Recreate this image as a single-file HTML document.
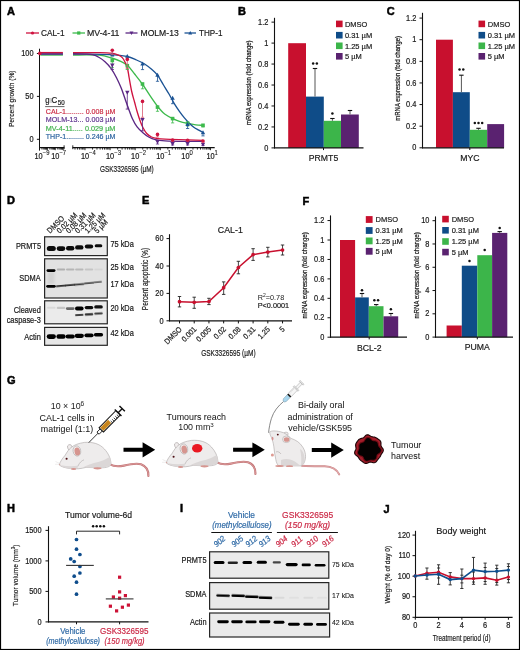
<!DOCTYPE html>
<html><head><meta charset="utf-8"><title>Figure</title>
<style>
html,body{margin:0;padding:0;background:#fff;}
body{width:520px;height:650px;overflow:hidden;}
svg{display:block;will-change:transform;}
svg{font-family:"Liberation Sans", sans-serif;}
</style></head><body>
<svg width="520" height="650" viewBox="0 0 520 650">
<rect x="0" y="0" width="520" height="650" fill="#fff"/>
<g fill="#1a1a1a">
<text x="7.00" y="14.90" font-size="11" fill="#000" stroke="#000" stroke-width="0.5" font-weight="bold">A</text>
<line x1="26.00" y1="33.00" x2="39.00" y2="33.00" stroke="#cf1440" stroke-width="1.3"/>
<circle cx="32.50" cy="33.00" r="1.62" fill="#cf1440"/>
<text x="0" y="0" transform="translate(41.00 36.10) scale(1 1.04)" font-size="8.6" stroke="#1a1a1a" stroke-width="0.18" textLength="23.5" lengthAdjust="spacingAndGlyphs">CAL-1</text>
<line x1="72.50" y1="33.00" x2="85.00" y2="33.00" stroke="#3dba4c" stroke-width="1.3"/>
<rect x="77.13" y="31.38" width="3.24" height="3.24" fill="#3dba4c"/>
<text x="0" y="0" transform="translate(87.00 36.10) scale(1 1.04)" font-size="8.6" stroke="#1a1a1a" stroke-width="0.18" textLength="32.5" lengthAdjust="spacingAndGlyphs">MV-4-11</text>
<line x1="125.50" y1="33.00" x2="137.50" y2="33.00" stroke="#5b2784" stroke-width="1.3"/>
<path d="M129.52,31.42 L133.48,31.42 L131.50,34.98Z" fill="#5b2784"/>
<text x="0" y="0" transform="translate(140.50 36.10) scale(1 1.04)" font-size="8.6" stroke="#1a1a1a" stroke-width="0.18" textLength="38.2" lengthAdjust="spacingAndGlyphs">MOLM-13</text>
<line x1="184.50" y1="33.00" x2="196.00" y2="33.00" stroke="#1b5394" stroke-width="1.3"/>
<path d="M188.27,34.58 L192.23,34.58 L190.25,31.02Z" fill="#1b5394"/>
<text x="0" y="0" transform="translate(199.00 36.10) scale(1 1.04)" font-size="8.6" stroke="#1a1a1a" stroke-width="0.18" textLength="23.5" lengthAdjust="spacingAndGlyphs">THP-1</text>
<line x1="39.50" y1="48.70" x2="39.50" y2="150.60" stroke="#111" stroke-width="1.05"/>
<line x1="36.90" y1="53.50" x2="39.50" y2="53.50" stroke="#111" stroke-width="1"/>
<text x="0" y="0" transform="translate(33.60 56.10) scale(1 1.15)" font-size="7.4" text-anchor="end" stroke="#1a1a1a" stroke-width="0.18">100</text>
<line x1="36.90" y1="96.40" x2="39.50" y2="96.40" stroke="#111" stroke-width="1"/>
<text x="0" y="0" transform="translate(33.60 99.00) scale(1 1.15)" font-size="7.4" text-anchor="end" stroke="#1a1a1a" stroke-width="0.18">50</text>
<line x1="36.90" y1="139.30" x2="39.50" y2="139.30" stroke="#111" stroke-width="1"/>
<text x="0" y="0" transform="translate(33.60 141.90) scale(1 1.15)" font-size="7.4" text-anchor="end" stroke="#1a1a1a" stroke-width="0.18">0</text>
<line x1="39.00" y1="147.60" x2="64.40" y2="147.60" stroke="#111" stroke-width="1.25"/>
<line x1="64.10" y1="145.30" x2="64.10" y2="149.20" stroke="#111" stroke-width="0.9"/>
<line x1="72.50" y1="147.60" x2="214.70" y2="147.60" stroke="#111" stroke-width="1.25"/>
<line x1="72.80" y1="145.30" x2="72.80" y2="149.20" stroke="#111" stroke-width="0.9"/>
<line x1="75.01" y1="147.60" x2="75.01" y2="149.60" stroke="#111" stroke-width="0.85"/>
<line x1="77.44" y1="147.60" x2="77.44" y2="149.60" stroke="#111" stroke-width="0.85"/>
<line x1="79.43" y1="147.60" x2="79.43" y2="149.60" stroke="#111" stroke-width="0.85"/>
<line x1="81.11" y1="147.60" x2="81.11" y2="149.60" stroke="#111" stroke-width="0.85"/>
<line x1="82.57" y1="147.60" x2="82.57" y2="149.60" stroke="#111" stroke-width="0.85"/>
<line x1="83.85" y1="147.60" x2="83.85" y2="149.60" stroke="#111" stroke-width="0.85"/>
<line x1="85.00" y1="147.60" x2="85.00" y2="150.20" stroke="#111" stroke-width="0.85"/>
<line x1="92.56" y1="147.60" x2="92.56" y2="149.60" stroke="#111" stroke-width="0.85"/>
<line x1="96.98" y1="147.60" x2="96.98" y2="149.60" stroke="#111" stroke-width="0.85"/>
<line x1="100.11" y1="147.60" x2="100.11" y2="149.60" stroke="#111" stroke-width="0.85"/>
<line x1="102.54" y1="147.60" x2="102.54" y2="149.60" stroke="#111" stroke-width="0.85"/>
<line x1="104.53" y1="147.60" x2="104.53" y2="149.60" stroke="#111" stroke-width="0.85"/>
<line x1="106.21" y1="147.60" x2="106.21" y2="149.60" stroke="#111" stroke-width="0.85"/>
<line x1="107.67" y1="147.60" x2="107.67" y2="149.60" stroke="#111" stroke-width="0.85"/>
<line x1="108.95" y1="147.60" x2="108.95" y2="149.60" stroke="#111" stroke-width="0.85"/>
<line x1="110.10" y1="147.60" x2="110.10" y2="150.20" stroke="#111" stroke-width="0.85"/>
<line x1="117.66" y1="147.60" x2="117.66" y2="149.60" stroke="#111" stroke-width="0.85"/>
<line x1="122.08" y1="147.60" x2="122.08" y2="149.60" stroke="#111" stroke-width="0.85"/>
<line x1="125.21" y1="147.60" x2="125.21" y2="149.60" stroke="#111" stroke-width="0.85"/>
<line x1="127.64" y1="147.60" x2="127.64" y2="149.60" stroke="#111" stroke-width="0.85"/>
<line x1="129.63" y1="147.60" x2="129.63" y2="149.60" stroke="#111" stroke-width="0.85"/>
<line x1="131.31" y1="147.60" x2="131.31" y2="149.60" stroke="#111" stroke-width="0.85"/>
<line x1="132.77" y1="147.60" x2="132.77" y2="149.60" stroke="#111" stroke-width="0.85"/>
<line x1="134.05" y1="147.60" x2="134.05" y2="149.60" stroke="#111" stroke-width="0.85"/>
<line x1="135.20" y1="147.60" x2="135.20" y2="150.20" stroke="#111" stroke-width="0.85"/>
<line x1="142.76" y1="147.60" x2="142.76" y2="149.60" stroke="#111" stroke-width="0.85"/>
<line x1="147.18" y1="147.60" x2="147.18" y2="149.60" stroke="#111" stroke-width="0.85"/>
<line x1="150.31" y1="147.60" x2="150.31" y2="149.60" stroke="#111" stroke-width="0.85"/>
<line x1="152.74" y1="147.60" x2="152.74" y2="149.60" stroke="#111" stroke-width="0.85"/>
<line x1="154.73" y1="147.60" x2="154.73" y2="149.60" stroke="#111" stroke-width="0.85"/>
<line x1="156.41" y1="147.60" x2="156.41" y2="149.60" stroke="#111" stroke-width="0.85"/>
<line x1="157.87" y1="147.60" x2="157.87" y2="149.60" stroke="#111" stroke-width="0.85"/>
<line x1="159.15" y1="147.60" x2="159.15" y2="149.60" stroke="#111" stroke-width="0.85"/>
<line x1="160.30" y1="147.60" x2="160.30" y2="150.20" stroke="#111" stroke-width="0.85"/>
<line x1="167.86" y1="147.60" x2="167.86" y2="149.60" stroke="#111" stroke-width="0.85"/>
<line x1="172.28" y1="147.60" x2="172.28" y2="149.60" stroke="#111" stroke-width="0.85"/>
<line x1="175.41" y1="147.60" x2="175.41" y2="149.60" stroke="#111" stroke-width="0.85"/>
<line x1="177.84" y1="147.60" x2="177.84" y2="149.60" stroke="#111" stroke-width="0.85"/>
<line x1="179.83" y1="147.60" x2="179.83" y2="149.60" stroke="#111" stroke-width="0.85"/>
<line x1="181.51" y1="147.60" x2="181.51" y2="149.60" stroke="#111" stroke-width="0.85"/>
<line x1="182.97" y1="147.60" x2="182.97" y2="149.60" stroke="#111" stroke-width="0.85"/>
<line x1="184.25" y1="147.60" x2="184.25" y2="149.60" stroke="#111" stroke-width="0.85"/>
<line x1="185.40" y1="147.60" x2="185.40" y2="150.20" stroke="#111" stroke-width="0.85"/>
<line x1="192.96" y1="147.60" x2="192.96" y2="149.60" stroke="#111" stroke-width="0.85"/>
<line x1="197.38" y1="147.60" x2="197.38" y2="149.60" stroke="#111" stroke-width="0.85"/>
<line x1="200.51" y1="147.60" x2="200.51" y2="149.60" stroke="#111" stroke-width="0.85"/>
<line x1="202.94" y1="147.60" x2="202.94" y2="149.60" stroke="#111" stroke-width="0.85"/>
<line x1="204.93" y1="147.60" x2="204.93" y2="149.60" stroke="#111" stroke-width="0.85"/>
<line x1="206.61" y1="147.60" x2="206.61" y2="149.60" stroke="#111" stroke-width="0.85"/>
<line x1="208.07" y1="147.60" x2="208.07" y2="149.60" stroke="#111" stroke-width="0.85"/>
<line x1="209.35" y1="147.60" x2="209.35" y2="149.60" stroke="#111" stroke-width="0.85"/>
<line x1="210.50" y1="147.60" x2="210.50" y2="150.20" stroke="#111" stroke-width="0.85"/>
<line x1="41.88" y1="147.60" x2="41.88" y2="149.50" stroke="#111" stroke-width="0.75"/>
<line x1="43.27" y1="147.60" x2="43.27" y2="149.50" stroke="#111" stroke-width="0.75"/>
<line x1="44.26" y1="147.60" x2="44.26" y2="149.50" stroke="#111" stroke-width="0.75"/>
<line x1="45.02" y1="147.60" x2="45.02" y2="149.50" stroke="#111" stroke-width="0.75"/>
<line x1="45.65" y1="147.60" x2="45.65" y2="149.50" stroke="#111" stroke-width="0.75"/>
<line x1="46.18" y1="147.60" x2="46.18" y2="149.50" stroke="#111" stroke-width="0.75"/>
<line x1="46.63" y1="147.60" x2="46.63" y2="149.50" stroke="#111" stroke-width="0.75"/>
<line x1="47.04" y1="147.60" x2="47.04" y2="149.50" stroke="#111" stroke-width="0.75"/>
<line x1="47.40" y1="147.60" x2="47.40" y2="150.20" stroke="#111" stroke-width="0.75"/>
<line x1="49.78" y1="147.60" x2="49.78" y2="149.50" stroke="#111" stroke-width="0.75"/>
<line x1="51.17" y1="147.60" x2="51.17" y2="149.50" stroke="#111" stroke-width="0.75"/>
<line x1="52.16" y1="147.60" x2="52.16" y2="149.50" stroke="#111" stroke-width="0.75"/>
<line x1="52.92" y1="147.60" x2="52.92" y2="149.50" stroke="#111" stroke-width="0.75"/>
<line x1="53.55" y1="147.60" x2="53.55" y2="149.50" stroke="#111" stroke-width="0.75"/>
<line x1="54.08" y1="147.60" x2="54.08" y2="149.50" stroke="#111" stroke-width="0.75"/>
<line x1="54.53" y1="147.60" x2="54.53" y2="149.50" stroke="#111" stroke-width="0.75"/>
<line x1="54.94" y1="147.60" x2="54.94" y2="149.50" stroke="#111" stroke-width="0.75"/>
<line x1="55.30" y1="147.60" x2="55.30" y2="150.20" stroke="#111" stroke-width="0.75"/>
<line x1="57.68" y1="147.60" x2="57.68" y2="149.50" stroke="#111" stroke-width="0.75"/>
<line x1="59.07" y1="147.60" x2="59.07" y2="149.50" stroke="#111" stroke-width="0.75"/>
<line x1="60.06" y1="147.60" x2="60.06" y2="149.50" stroke="#111" stroke-width="0.75"/>
<line x1="60.82" y1="147.60" x2="60.82" y2="149.50" stroke="#111" stroke-width="0.75"/>
<line x1="61.45" y1="147.60" x2="61.45" y2="149.50" stroke="#111" stroke-width="0.75"/>
<line x1="61.98" y1="147.60" x2="61.98" y2="149.50" stroke="#111" stroke-width="0.75"/>
<line x1="62.43" y1="147.60" x2="62.43" y2="149.50" stroke="#111" stroke-width="0.75"/>
<line x1="62.84" y1="147.60" x2="62.84" y2="149.50" stroke="#111" stroke-width="0.75"/>
<line x1="63.20" y1="147.60" x2="63.20" y2="150.20" stroke="#111" stroke-width="0.75"/>
<text x="0" y="0" transform="translate(38.60 158.80) scale(1 1.13)" font-size="7.4" text-anchor="middle" stroke="#1a1a1a" stroke-width="0.18">10</text>
<text x="0" y="0" transform="translate(42.70 155.20) scale(1 1.1)" font-size="5.9" stroke="#1a1a1a" stroke-width="0.1">−9</text>
<text x="0" y="0" transform="translate(55.30 158.80) scale(1 1.13)" font-size="7.4" text-anchor="middle" stroke="#1a1a1a" stroke-width="0.18">10</text>
<text x="0" y="0" transform="translate(59.40 155.20) scale(1 1.1)" font-size="5.9" stroke="#1a1a1a" stroke-width="0.1">−7</text>
<text x="0" y="0" transform="translate(85.00 158.80) scale(1 1.13)" font-size="7.4" text-anchor="middle" stroke="#1a1a1a" stroke-width="0.18">10</text>
<text x="0" y="0" transform="translate(89.10 155.20) scale(1 1.1)" font-size="5.9" stroke="#1a1a1a" stroke-width="0.1">−4</text>
<text x="0" y="0" transform="translate(110.10 158.80) scale(1 1.13)" font-size="7.4" text-anchor="middle" stroke="#1a1a1a" stroke-width="0.18">10</text>
<text x="0" y="0" transform="translate(114.20 155.20) scale(1 1.1)" font-size="5.9" stroke="#1a1a1a" stroke-width="0.1">−3</text>
<text x="0" y="0" transform="translate(135.20 158.80) scale(1 1.13)" font-size="7.4" text-anchor="middle" stroke="#1a1a1a" stroke-width="0.18">10</text>
<text x="0" y="0" transform="translate(139.30 155.20) scale(1 1.1)" font-size="5.9" stroke="#1a1a1a" stroke-width="0.1">−2</text>
<text x="0" y="0" transform="translate(160.30 158.80) scale(1 1.13)" font-size="7.4" text-anchor="middle" stroke="#1a1a1a" stroke-width="0.18">10</text>
<text x="0" y="0" transform="translate(164.40 155.20) scale(1 1.1)" font-size="5.9" stroke="#1a1a1a" stroke-width="0.1">−1</text>
<text x="0" y="0" transform="translate(185.40 158.80) scale(1 1.13)" font-size="7.4" text-anchor="middle" stroke="#1a1a1a" stroke-width="0.18">10</text>
<text x="0" y="0" transform="translate(189.50 155.20) scale(1 1.1)" font-size="5.9" stroke="#1a1a1a" stroke-width="0.1">0</text>
<text x="0" y="0" transform="translate(210.50 158.80) scale(1 1.13)" font-size="7.4" text-anchor="middle" stroke="#1a1a1a" stroke-width="0.18">10</text>
<text x="0" y="0" transform="translate(214.60 155.20) scale(1 1.1)" font-size="5.9" stroke="#1a1a1a" stroke-width="0.1">1</text>
<text x="126.90" y="172.40" font-size="8.6" text-anchor="middle" stroke="#1a1a1a" stroke-width="0.18" textLength="53.7" lengthAdjust="spacingAndGlyphs">GSK3326595 (µM)</text>
<text x="0" y="0" font-size="8.0" text-anchor="middle" textLength="56.5" lengthAdjust="spacingAndGlyphs" stroke="#1a1a1a" stroke-width="0.18" transform="translate(13.64 98.80) rotate(-90)">Percent growth (%)</text>
<line x1="40.30" y1="55.00" x2="62.90" y2="55.00" stroke="#3dba4c" stroke-width="1.35"/>
<line x1="40.30" y1="53.90" x2="62.90" y2="53.90" stroke="#1b5394" stroke-width="1.35"/>
<line x1="40.30" y1="54.00" x2="62.90" y2="54.00" stroke="#5b2784" stroke-width="1.35"/>
<line x1="40.30" y1="52.60" x2="62.90" y2="52.60" stroke="#cf1440" stroke-width="1.35"/>
<path d="M73.00,55.00 C77.37,55.03 92.75,54.70 99.20,55.20 C105.65,55.70 108.02,56.93 111.70,58.00 C115.38,59.07 118.60,60.30 121.30,61.60 C124.00,62.90 125.68,63.73 127.90,65.80 C130.12,67.87 132.20,70.97 134.60,74.00 C137.00,77.03 139.73,80.40 142.30,84.00 C144.87,87.60 147.60,92.07 150.00,95.60 C152.40,99.13 154.93,102.80 156.70,105.20 C158.47,107.60 159.22,108.50 160.60,110.00 C161.98,111.50 162.98,112.77 165.00,114.20 C167.02,115.63 170.30,117.40 172.70,118.60 C175.10,119.80 176.92,120.60 179.40,121.40 C181.88,122.20 184.87,122.83 187.60,123.40 C190.33,123.97 193.23,124.48 195.80,124.80 C198.37,125.12 201.80,125.22 203.00,125.30" fill="none" stroke="#3dba4c" stroke-width="1.35"/>
<path d="M73.00,53.70 C79.45,53.85 102.68,54.13 111.70,54.60 C120.72,55.07 122.97,55.60 127.10,56.50 C131.23,57.40 133.65,58.78 136.50,60.00 C139.35,61.22 141.63,62.20 144.20,63.80 C146.77,65.40 149.65,67.67 151.90,69.60 C154.15,71.53 155.77,72.83 157.70,75.40 C159.63,77.97 161.57,81.82 163.50,85.00 C165.43,88.18 167.45,91.32 169.30,94.50 C171.15,97.68 172.92,101.30 174.60,104.10 C176.28,106.90 177.80,109.05 179.40,111.30 C181.00,113.55 182.60,115.67 184.20,117.60 C185.80,119.53 187.40,121.30 189.00,122.90 C190.60,124.50 192.18,126.00 193.80,127.20 C195.42,128.40 197.17,129.22 198.70,130.10 C200.23,130.98 202.28,132.10 203.00,132.50" fill="none" stroke="#1b5394" stroke-width="1.35"/>
<path d="M73.00,54.00 C75.00,54.02 81.75,53.98 85.00,54.10 C88.25,54.22 90.13,54.13 92.50,54.70 C94.87,55.27 97.12,56.32 99.20,57.50 C101.28,58.68 103.07,60.03 105.00,61.80 C106.93,63.57 108.88,65.45 110.80,68.10 C112.72,70.75 114.75,74.33 116.50,77.70 C118.25,81.07 119.87,84.75 121.30,88.30 C122.73,91.85 123.90,95.63 125.10,99.00 C126.30,102.37 127.30,105.25 128.50,108.50 C129.70,111.75 130.87,115.43 132.30,118.50 C133.73,121.57 135.33,124.53 137.10,126.90 C138.87,129.27 140.97,131.02 142.90,132.70 C144.83,134.38 146.62,135.83 148.70,137.00 C150.78,138.17 152.68,139.05 155.40,139.70 C158.12,140.35 160.07,140.62 165.00,140.90 C169.93,141.18 178.67,141.33 185.00,141.40 C191.33,141.47 200.00,141.32 203.00,141.30" fill="none" stroke="#5b2784" stroke-width="1.35"/>
<path d="M73.00,52.60 C77.50,52.60 93.55,52.50 100.00,52.60 C106.45,52.70 108.62,52.78 111.70,53.20 C114.78,53.62 116.73,54.37 118.50,55.10 C120.27,55.83 121.18,56.37 122.30,57.60 C123.42,58.83 124.32,60.60 125.20,62.50 C126.08,64.40 126.95,66.50 127.60,69.00 C128.25,71.50 128.42,73.75 129.10,77.50 C129.78,81.25 130.78,87.37 131.70,91.50 C132.62,95.63 133.70,98.97 134.60,102.30 C135.50,105.63 136.20,108.47 137.10,111.50 C138.00,114.53 139.03,117.83 140.00,120.50 C140.97,123.17 141.78,125.33 142.90,127.50 C144.02,129.67 145.27,131.92 146.70,133.50 C148.13,135.08 149.73,136.17 151.50,137.00 C153.27,137.83 155.05,138.13 157.30,138.50 C159.55,138.87 159.95,138.98 165.00,139.20 C170.05,139.42 181.27,139.62 187.60,139.80 C193.93,139.98 200.43,140.22 203.00,140.30" fill="none" stroke="#cf1440" stroke-width="1.35"/>
<line x1="112.30" y1="60.40" x2="112.30" y2="67.60" stroke="#3dba4c" stroke-width="0.8"/>
<line x1="110.70" y1="67.60" x2="113.90" y2="67.60" stroke="#3dba4c" stroke-width="0.8"/>
<rect x="110.50" y="58.60" width="3.60" height="3.60" fill="#3dba4c"/>
<line x1="112.30" y1="54.40" x2="112.30" y2="56.00" stroke="#1b5394" stroke-width="0.8"/>
<line x1="110.70" y1="56.00" x2="113.90" y2="56.00" stroke="#1b5394" stroke-width="0.8"/>
<path d="M110.10,56.16 L114.50,56.16 L112.30,52.20Z" fill="#1b5394"/>
<line x1="112.30" y1="65.20" x2="112.30" y2="69.50" stroke="#5b2784" stroke-width="0.8"/>
<line x1="110.70" y1="69.50" x2="113.90" y2="69.50" stroke="#5b2784" stroke-width="0.8"/>
<path d="M110.10,63.44 L114.50,63.44 L112.30,67.40Z" fill="#5b2784"/>
<line x1="112.30" y1="50.30" x2="112.30" y2="54.60" stroke="#d9586f" stroke-width="0.8"/>
<line x1="110.70" y1="54.60" x2="113.90" y2="54.60" stroke="#d9586f" stroke-width="0.8"/>
<circle cx="112.30" cy="50.30" r="1.80" fill="#cf1440"/>
<line x1="127.30" y1="65.70" x2="127.30" y2="69.50" stroke="#3dba4c" stroke-width="0.8"/>
<line x1="125.70" y1="69.50" x2="128.90" y2="69.50" stroke="#3dba4c" stroke-width="0.8"/>
<rect x="125.50" y="63.90" width="3.60" height="3.60" fill="#3dba4c"/>
<line x1="127.30" y1="56.10" x2="127.30" y2="58.00" stroke="#1b5394" stroke-width="0.8"/>
<line x1="125.70" y1="58.00" x2="128.90" y2="58.00" stroke="#1b5394" stroke-width="0.8"/>
<path d="M125.10,57.86 L129.50,57.86 L127.30,53.90Z" fill="#1b5394"/>
<line x1="127.30" y1="92.60" x2="127.30" y2="109.10" stroke="#5b2784" stroke-width="0.8"/>
<line x1="125.70" y1="109.10" x2="128.90" y2="109.10" stroke="#5b2784" stroke-width="0.8"/>
<path d="M125.10,90.84 L129.50,90.84 L127.30,94.80Z" fill="#5b2784"/>
<line x1="127.30" y1="59.40" x2="127.30" y2="68.60" stroke="#d9586f" stroke-width="0.8"/>
<line x1="125.70" y1="68.60" x2="128.90" y2="68.60" stroke="#d9586f" stroke-width="0.8"/>
<circle cx="127.30" cy="59.40" r="1.80" fill="#cf1440"/>
<line x1="142.50" y1="84.00" x2="142.50" y2="88.80" stroke="#3dba4c" stroke-width="0.8"/>
<line x1="140.90" y1="88.80" x2="144.10" y2="88.80" stroke="#3dba4c" stroke-width="0.8"/>
<rect x="140.70" y="82.20" width="3.60" height="3.60" fill="#3dba4c"/>
<line x1="142.50" y1="63.80" x2="142.50" y2="69.60" stroke="#1b5394" stroke-width="0.8"/>
<line x1="140.90" y1="69.60" x2="144.10" y2="69.60" stroke="#1b5394" stroke-width="0.8"/>
<path d="M140.30,65.56 L144.70,65.56 L142.50,61.60Z" fill="#1b5394"/>
<line x1="142.50" y1="119.70" x2="142.50" y2="130.80" stroke="#5b2784" stroke-width="0.8"/>
<line x1="140.90" y1="130.80" x2="144.10" y2="130.80" stroke="#5b2784" stroke-width="0.8"/>
<path d="M140.30,117.94 L144.70,117.94 L142.50,121.90Z" fill="#5b2784"/>
<line x1="142.50" y1="101.40" x2="142.50" y2="117.30" stroke="#d9586f" stroke-width="0.8"/>
<line x1="140.90" y1="117.30" x2="144.10" y2="117.30" stroke="#d9586f" stroke-width="0.8"/>
<circle cx="142.50" cy="101.40" r="1.80" fill="#cf1440"/>
<line x1="157.50" y1="107.10" x2="157.50" y2="111.30" stroke="#3dba4c" stroke-width="0.8"/>
<line x1="155.90" y1="111.30" x2="159.10" y2="111.30" stroke="#3dba4c" stroke-width="0.8"/>
<rect x="155.70" y="105.30" width="3.60" height="3.60" fill="#3dba4c"/>
<line x1="157.50" y1="74.90" x2="157.50" y2="81.30" stroke="#1b5394" stroke-width="0.8"/>
<line x1="155.90" y1="81.30" x2="159.10" y2="81.30" stroke="#1b5394" stroke-width="0.8"/>
<path d="M155.30,76.66 L159.70,76.66 L157.50,72.70Z" fill="#1b5394"/>
<line x1="157.50" y1="141.80" x2="157.50" y2="144.00" stroke="#5b2784" stroke-width="0.8"/>
<line x1="155.90" y1="144.00" x2="159.10" y2="144.00" stroke="#5b2784" stroke-width="0.8"/>
<path d="M155.30,140.04 L159.70,140.04 L157.50,144.00Z" fill="#5b2784"/>
<line x1="157.50" y1="134.40" x2="157.50" y2="137.00" stroke="#d9586f" stroke-width="0.8"/>
<line x1="155.90" y1="137.00" x2="159.10" y2="137.00" stroke="#d9586f" stroke-width="0.8"/>
<circle cx="157.50" cy="134.40" r="1.80" fill="#cf1440"/>
<line x1="172.60" y1="118.60" x2="172.60" y2="122.90" stroke="#3dba4c" stroke-width="0.8"/>
<line x1="171.00" y1="122.90" x2="174.20" y2="122.90" stroke="#3dba4c" stroke-width="0.8"/>
<rect x="170.80" y="116.80" width="3.60" height="3.60" fill="#3dba4c"/>
<line x1="172.60" y1="97.90" x2="172.60" y2="103.70" stroke="#1b5394" stroke-width="0.8"/>
<line x1="171.00" y1="103.70" x2="174.20" y2="103.70" stroke="#1b5394" stroke-width="0.8"/>
<path d="M170.40,99.66 L174.80,99.66 L172.60,95.70Z" fill="#1b5394"/>
<line x1="172.60" y1="143.80" x2="172.60" y2="145.00" stroke="#5b2784" stroke-width="0.8"/>
<line x1="171.00" y1="145.00" x2="174.20" y2="145.00" stroke="#5b2784" stroke-width="0.8"/>
<path d="M170.40,142.04 L174.80,142.04 L172.60,146.00Z" fill="#5b2784"/>
<line x1="172.60" y1="140.10" x2="172.60" y2="141.00" stroke="#d9586f" stroke-width="0.8"/>
<line x1="171.00" y1="141.00" x2="174.20" y2="141.00" stroke="#d9586f" stroke-width="0.8"/>
<circle cx="172.60" cy="140.10" r="1.80" fill="#cf1440"/>
<line x1="187.60" y1="123.20" x2="187.60" y2="126.00" stroke="#3dba4c" stroke-width="0.8"/>
<line x1="186.00" y1="126.00" x2="189.20" y2="126.00" stroke="#3dba4c" stroke-width="0.8"/>
<rect x="185.80" y="121.40" width="3.60" height="3.60" fill="#3dba4c"/>
<line x1="187.60" y1="124.30" x2="187.60" y2="128.50" stroke="#1b5394" stroke-width="0.8"/>
<line x1="186.00" y1="128.50" x2="189.20" y2="128.50" stroke="#1b5394" stroke-width="0.8"/>
<path d="M185.40,126.06 L189.80,126.06 L187.60,122.10Z" fill="#1b5394"/>
<line x1="187.60" y1="143.80" x2="187.60" y2="145.00" stroke="#5b2784" stroke-width="0.8"/>
<line x1="186.00" y1="145.00" x2="189.20" y2="145.00" stroke="#5b2784" stroke-width="0.8"/>
<path d="M185.40,142.04 L189.80,142.04 L187.60,146.00Z" fill="#5b2784"/>
<line x1="187.60" y1="140.30" x2="187.60" y2="141.00" stroke="#d9586f" stroke-width="0.8"/>
<line x1="186.00" y1="141.00" x2="189.20" y2="141.00" stroke="#d9586f" stroke-width="0.8"/>
<circle cx="187.60" cy="140.30" r="1.80" fill="#cf1440"/>
<line x1="203.00" y1="125.30" x2="203.00" y2="127.00" stroke="#3dba4c" stroke-width="0.8"/>
<line x1="201.40" y1="127.00" x2="204.60" y2="127.00" stroke="#3dba4c" stroke-width="0.8"/>
<rect x="201.20" y="123.50" width="3.60" height="3.60" fill="#3dba4c"/>
<line x1="203.00" y1="132.50" x2="203.00" y2="135.90" stroke="#1b5394" stroke-width="0.8"/>
<line x1="201.40" y1="135.90" x2="204.60" y2="135.90" stroke="#1b5394" stroke-width="0.8"/>
<path d="M200.80,134.26 L205.20,134.26 L203.00,130.30Z" fill="#1b5394"/>
<line x1="203.00" y1="144.50" x2="203.00" y2="145.50" stroke="#5b2784" stroke-width="0.8"/>
<line x1="201.40" y1="145.50" x2="204.60" y2="145.50" stroke="#5b2784" stroke-width="0.8"/>
<path d="M200.80,142.74 L205.20,142.74 L203.00,146.70Z" fill="#5b2784"/>
<line x1="203.00" y1="141.00" x2="203.00" y2="142.00" stroke="#d9586f" stroke-width="0.8"/>
<line x1="201.40" y1="142.00" x2="204.60" y2="142.00" stroke="#d9586f" stroke-width="0.8"/>
<circle cx="203.00" cy="141.00" r="1.80" fill="#cf1440"/>
<circle cx="39.80" cy="53.40" r="1.80" fill="#cf1440"/>
<text x="0" y="0" transform="translate(45.30 103.10) scale(1 1.1)" font-size="7.8" stroke="#1a1a1a" stroke-width="0.18">g</text>
<text x="0" y="0" transform="translate(49.90 102.60) scale(1 1.1)" font-size="7.2" fill="#8a8a8a">I</text>
<text x="0" y="0" transform="translate(51.60 103.10) scale(1 1.1)" font-size="7.9" stroke="#1a1a1a" stroke-width="0.18">C</text>
<text x="0" y="0" transform="translate(57.80 105.00) scale(1 1.1)" font-size="6.2" stroke="#1a1a1a" stroke-width="0.18">50</text>
<line x1="45.10" y1="106.60" x2="64.50" y2="106.60" stroke="#555" stroke-width="0.9"/>
<text x="0" y="0" transform="translate(45.80 113.80) scale(1 1.1)" font-size="7.3" fill="#cc2d45" stroke="#cc2d45" stroke-width="0.18" textLength="69.6" lengthAdjust="spacingAndGlyphs">CAL-1......... 0.008 µM</text>
<text x="0" y="0" transform="translate(45.80 122.20) scale(1 1.1)" font-size="7.3" fill="#5f3590" stroke="#5f3590" stroke-width="0.18" textLength="69.6" lengthAdjust="spacingAndGlyphs">MOLM-13... 0.003 µM</text>
<text x="0" y="0" transform="translate(45.80 130.60) scale(1 1.1)" font-size="7.3" fill="#42b24e" stroke="#42b24e" stroke-width="0.18" textLength="69.6" lengthAdjust="spacingAndGlyphs">MV-4-11..... 0.029 µM</text>
<text x="0" y="0" transform="translate(45.80 139.10) scale(1 1.1)" font-size="7.3" fill="#2d64a0" stroke="#2d64a0" stroke-width="0.18" textLength="69.6" lengthAdjust="spacingAndGlyphs">THP-1......... 0.246 µM</text>
<text x="238.00" y="14.80" font-size="11" fill="#000" stroke="#000" stroke-width="0.5" font-weight="bold">B</text>
<line x1="274.50" y1="17.80" x2="274.50" y2="148.40" stroke="#111" stroke-width="1.1"/>
<line x1="271.50" y1="147.90" x2="274.50" y2="147.90" stroke="#111" stroke-width="1"/>
<text x="0" y="0" transform="translate(268.40 150.55) scale(1 1.15)" font-size="7.4" text-anchor="end" stroke="#1a1a1a" stroke-width="0.18">0</text>
<line x1="271.50" y1="126.94" x2="274.50" y2="126.94" stroke="#111" stroke-width="1"/>
<text x="0" y="0" transform="translate(268.40 129.59) scale(1 1.15)" font-size="7.4" text-anchor="end" stroke="#1a1a1a" stroke-width="0.18">0.2</text>
<line x1="271.50" y1="105.98" x2="274.50" y2="105.98" stroke="#111" stroke-width="1"/>
<text x="0" y="0" transform="translate(268.40 108.63) scale(1 1.15)" font-size="7.4" text-anchor="end" stroke="#1a1a1a" stroke-width="0.18">0.4</text>
<line x1="271.50" y1="85.02" x2="274.50" y2="85.02" stroke="#111" stroke-width="1"/>
<text x="0" y="0" transform="translate(268.40 87.67) scale(1 1.15)" font-size="7.4" text-anchor="end" stroke="#1a1a1a" stroke-width="0.18">0.6</text>
<line x1="271.50" y1="64.06" x2="274.50" y2="64.06" stroke="#111" stroke-width="1"/>
<text x="0" y="0" transform="translate(268.40 66.71) scale(1 1.15)" font-size="7.4" text-anchor="end" stroke="#1a1a1a" stroke-width="0.18">0.8</text>
<line x1="271.50" y1="43.10" x2="274.50" y2="43.10" stroke="#111" stroke-width="1"/>
<text x="0" y="0" transform="translate(268.40 45.75) scale(1 1.15)" font-size="7.4" text-anchor="end" stroke="#1a1a1a" stroke-width="0.18">1</text>
<line x1="271.50" y1="22.14" x2="274.50" y2="22.14" stroke="#111" stroke-width="1"/>
<text x="0" y="0" transform="translate(268.40 24.79) scale(1 1.15)" font-size="7.4" text-anchor="end" stroke="#1a1a1a" stroke-width="0.18">1.2</text>
<rect x="288.20" y="43.20" width="17.80" height="104.70" fill="#c8102e"/>
<rect x="306.00" y="96.60" width="17.80" height="51.30" fill="#0f4c88"/>
<rect x="323.80" y="120.80" width="17.20" height="27.10" fill="#3cb54a"/>
<rect x="341.00" y="114.50" width="17.80" height="33.40" fill="#5a2270"/>
<line x1="315.00" y1="96.60" x2="315.00" y2="68.50" stroke="#555" stroke-width="1"/>
<line x1="312.80" y1="68.50" x2="317.20" y2="68.50" stroke="#111" stroke-width="1.1"/>
<line x1="332.40" y1="120.80" x2="332.40" y2="118.50" stroke="#555" stroke-width="1"/>
<line x1="330.20" y1="118.50" x2="334.60" y2="118.50" stroke="#111" stroke-width="1.1"/>
<line x1="350.00" y1="114.50" x2="350.00" y2="110.50" stroke="#555" stroke-width="1"/>
<line x1="347.80" y1="110.50" x2="352.20" y2="110.50" stroke="#111" stroke-width="1.1"/>
<line x1="274.00" y1="147.90" x2="363.50" y2="147.90" stroke="#111" stroke-width="1.2"/>
<line x1="323.50" y1="147.90" x2="323.50" y2="150.10" stroke="#111" stroke-width="1"/>
<text x="0" y="0" transform="translate(323.50 160.80) scale(1 1.1)" font-size="8.7" text-anchor="middle" stroke="#1a1a1a" stroke-width="0.18">PRMT5</text>
<circle cx="313.15" cy="63.40" r="1.25" fill="#111"/>
<circle cx="316.85" cy="63.40" r="1.25" fill="#111"/>
<circle cx="332.40" cy="113.60" r="1.25" fill="#111"/>
<text x="0" y="0" font-size="7.6" text-anchor="middle" textLength="84.5" lengthAdjust="spacingAndGlyphs" stroke="#1a1a1a" stroke-width="0.22" transform="translate(250.61 82.70) rotate(-90)">mRNA expression (fold change)</text>
<rect x="336.00" y="20.60" width="6.60" height="6.60" fill="#c8102e"/>
<text x="0" y="0" transform="translate(344.90 26.60) scale(1 1.06)" font-size="7.5" stroke="#1a1a1a" stroke-width="0.18">DMSO</text>
<rect x="336.00" y="31.90" width="6.60" height="6.60" fill="#0f4c88"/>
<text x="0" y="0" transform="translate(344.90 37.90) scale(1 1.06)" font-size="7.5" stroke="#1a1a1a" stroke-width="0.18">0.31 µM</text>
<rect x="336.00" y="42.50" width="6.60" height="6.60" fill="#3cb54a"/>
<text x="0" y="0" transform="translate(344.90 48.50) scale(1 1.06)" font-size="7.5" stroke="#1a1a1a" stroke-width="0.18">1.25 µM</text>
<rect x="336.00" y="53.00" width="6.60" height="6.60" fill="#5a2270"/>
<text x="0" y="0" transform="translate(344.90 59.00) scale(1 1.06)" font-size="7.5" stroke="#1a1a1a" stroke-width="0.18">5 µM</text>
<text x="386.80" y="14.70" font-size="11" fill="#000" stroke="#000" stroke-width="0.5" font-weight="bold">C</text>
<line x1="422.50" y1="12.80" x2="422.50" y2="148.30" stroke="#111" stroke-width="1.1"/>
<line x1="419.50" y1="147.80" x2="422.50" y2="147.80" stroke="#111" stroke-width="1"/>
<text x="0" y="0" transform="translate(416.40 150.45) scale(1 1.15)" font-size="7.4" text-anchor="end" stroke="#1a1a1a" stroke-width="0.18">0</text>
<line x1="419.50" y1="126.18" x2="422.50" y2="126.18" stroke="#111" stroke-width="1"/>
<text x="0" y="0" transform="translate(416.40 128.83) scale(1 1.15)" font-size="7.4" text-anchor="end" stroke="#1a1a1a" stroke-width="0.18">0.2</text>
<line x1="419.50" y1="104.56" x2="422.50" y2="104.56" stroke="#111" stroke-width="1"/>
<text x="0" y="0" transform="translate(416.40 107.21) scale(1 1.15)" font-size="7.4" text-anchor="end" stroke="#1a1a1a" stroke-width="0.18">0.4</text>
<line x1="419.50" y1="82.94" x2="422.50" y2="82.94" stroke="#111" stroke-width="1"/>
<text x="0" y="0" transform="translate(416.40 85.59) scale(1 1.15)" font-size="7.4" text-anchor="end" stroke="#1a1a1a" stroke-width="0.18">0.6</text>
<line x1="419.50" y1="61.32" x2="422.50" y2="61.32" stroke="#111" stroke-width="1"/>
<text x="0" y="0" transform="translate(416.40 63.97) scale(1 1.15)" font-size="7.4" text-anchor="end" stroke="#1a1a1a" stroke-width="0.18">0.8</text>
<line x1="419.50" y1="39.70" x2="422.50" y2="39.70" stroke="#111" stroke-width="1"/>
<text x="0" y="0" transform="translate(416.40 42.35) scale(1 1.15)" font-size="7.4" text-anchor="end" stroke="#1a1a1a" stroke-width="0.18">1</text>
<line x1="419.50" y1="18.08" x2="422.50" y2="18.08" stroke="#111" stroke-width="1"/>
<text x="0" y="0" transform="translate(416.40 20.73) scale(1 1.15)" font-size="7.4" text-anchor="end" stroke="#1a1a1a" stroke-width="0.18">1.2</text>
<rect x="436.00" y="39.70" width="16.90" height="108.10" fill="#c8102e"/>
<rect x="452.90" y="92.20" width="16.90" height="55.60" fill="#0f4c88"/>
<rect x="469.80" y="129.80" width="17.40" height="18.00" fill="#3cb54a"/>
<rect x="487.20" y="124.10" width="16.90" height="23.70" fill="#5a2270"/>
<line x1="461.40" y1="92.20" x2="461.40" y2="75.20" stroke="#555" stroke-width="1"/>
<line x1="459.20" y1="75.20" x2="463.60" y2="75.20" stroke="#111" stroke-width="1.1"/>
<line x1="478.50" y1="129.80" x2="478.50" y2="128.30" stroke="#555" stroke-width="1"/>
<line x1="476.30" y1="128.30" x2="480.70" y2="128.30" stroke="#111" stroke-width="1.1"/>
<line x1="422.00" y1="147.80" x2="504.00" y2="147.80" stroke="#111" stroke-width="1.2"/>
<line x1="469.80" y1="147.80" x2="469.80" y2="150.00" stroke="#111" stroke-width="1"/>
<text x="0" y="0" transform="translate(469.80 160.80) scale(1 1.1)" font-size="8.7" text-anchor="middle" stroke="#1a1a1a" stroke-width="0.18">MYC</text>
<circle cx="459.55" cy="69.50" r="1.25" fill="#111"/>
<circle cx="463.25" cy="69.50" r="1.25" fill="#111"/>
<circle cx="474.80" cy="123.00" r="1.25" fill="#111"/>
<circle cx="478.50" cy="123.00" r="1.25" fill="#111"/>
<circle cx="482.20" cy="123.00" r="1.25" fill="#111"/>
<text x="0" y="0" font-size="7.6" text-anchor="middle" textLength="84.8" lengthAdjust="spacingAndGlyphs" stroke="#1a1a1a" stroke-width="0.22" transform="translate(400.31 78.40) rotate(-90)">mRNA expression (fold change)</text>
<rect x="478.50" y="20.60" width="6.60" height="6.60" fill="#c8102e"/>
<text x="0" y="0" transform="translate(487.80 26.60) scale(1 1.06)" font-size="7.5" stroke="#1a1a1a" stroke-width="0.18">DMSO</text>
<rect x="478.50" y="31.90" width="6.60" height="6.60" fill="#0f4c88"/>
<text x="0" y="0" transform="translate(487.80 37.90) scale(1 1.06)" font-size="7.5" stroke="#1a1a1a" stroke-width="0.18">0.31 µM</text>
<rect x="478.50" y="42.50" width="6.60" height="6.60" fill="#3cb54a"/>
<text x="0" y="0" transform="translate(487.80 48.50) scale(1 1.06)" font-size="7.5" stroke="#1a1a1a" stroke-width="0.18">1.25 µM</text>
<rect x="478.50" y="53.00" width="6.60" height="6.60" fill="#5a2270"/>
<text x="0" y="0" transform="translate(487.80 59.00) scale(1 1.06)" font-size="7.5" stroke="#1a1a1a" stroke-width="0.18">5 µM</text>
<text x="6.90" y="204.00" font-size="11" fill="#000" stroke="#000" stroke-width="0.5" font-weight="bold">D</text>
<defs><filter id="blur1" x="-30%" y="-80%" width="160%" height="260%"><feGaussianBlur stdDeviation="0.55"/></filter><filter id="blur2" x="-30%" y="-80%" width="160%" height="260%"><feGaussianBlur stdDeviation="1.0"/></filter></defs>
<text x="0" y="0" transform="translate(50.10 233.80) rotate(-45) scale(1 1.12)" font-size="7.0" stroke="#1a1a1a" stroke-width="0.18">DMSO</text>
<text x="0" y="0" transform="translate(59.80 233.80) rotate(-45) scale(1 1.12)" font-size="7.0" stroke="#1a1a1a" stroke-width="0.18">0.02 µM</text>
<text x="0" y="0" transform="translate(69.00 233.80) rotate(-45) scale(1 1.12)" font-size="7.0" stroke="#1a1a1a" stroke-width="0.18">0.08 µM</text>
<text x="0" y="0" transform="translate(78.10 233.80) rotate(-45) scale(1 1.12)" font-size="7.0" stroke="#1a1a1a" stroke-width="0.18">0.31 µM</text>
<text x="0" y="0" transform="translate(87.80 233.80) rotate(-45) scale(1 1.12)" font-size="7.0" stroke="#1a1a1a" stroke-width="0.18">1.25 µM</text>
<text x="0" y="0" transform="translate(97.30 233.80) rotate(-45) scale(1 1.12)" font-size="7.0" stroke="#1a1a1a" stroke-width="0.18">5 µM</text>
<rect x="44.60" y="236.80" width="62.70" height="18.80" fill="#eaeaea" stroke="#262626" stroke-width="1.2"/>
<rect x="44.60" y="258.80" width="62.70" height="39.20" fill="#e2e2e2" stroke="#262626" stroke-width="1.2"/>
<rect x="44.60" y="300.80" width="62.70" height="23.00" fill="#ebebeb" stroke="#262626" stroke-width="1.2"/>
<rect x="44.60" y="327.40" width="62.70" height="17.90" fill="#e7e7e7" stroke="#262626" stroke-width="1.2"/>
<rect x="46.80" y="245.90" width="9.00" height="5.00" rx="2.50" fill="#000" fill-opacity="0.95" filter="url(#blur1)"/>
<rect x="56.70" y="246.20" width="8.60" height="4.80" rx="2.40" fill="#000" fill-opacity="0.95" filter="url(#blur1)"/>
<rect x="66.00" y="246.00" width="8.40" height="4.40" rx="2.20" fill="#000" fill-opacity="0.95" filter="url(#blur1)"/>
<rect x="75.10" y="245.20" width="8.40" height="4.40" rx="2.20" fill="#000" fill-opacity="0.95" filter="url(#blur1)"/>
<rect x="84.80" y="244.40" width="8.40" height="4.20" rx="2.10" fill="#000" fill-opacity="0.95" filter="url(#blur1)"/>
<rect x="94.70" y="244.30" width="7.60" height="3.00" rx="1.50" fill="#000" fill-opacity="0.95" filter="url(#blur1)"/>
<rect x="46.50" y="269.20" width="9.00" height="2.80" rx="1.40" fill="#000" fill-opacity="1.00" filter="url(#blur1)"/>
<rect x="56.80" y="268.60" width="8.40" height="2.00" rx="1.00" fill="#000" fill-opacity="0.22" filter="url(#blur1)"/>
<rect x="66.00" y="268.60" width="8.40" height="2.00" rx="1.00" fill="#000" fill-opacity="0.20" filter="url(#blur1)"/>
<rect x="75.10" y="268.60" width="8.40" height="2.00" rx="1.00" fill="#000" fill-opacity="0.18" filter="url(#blur1)"/>
<rect x="84.80" y="268.60" width="8.40" height="2.00" rx="1.00" fill="#000" fill-opacity="0.13" filter="url(#blur1)"/>
<rect x="94.30" y="268.60" width="8.40" height="2.00" rx="1.00" fill="#000" fill-opacity="0.05" filter="url(#blur1)"/>
<rect x="47.5" y="272" width="7" height="12" fill="#000" fill-opacity="0.07" filter="url(#blur2)"/>
<rect x="46.20" y="284.90" width="9.60" height="2.80" rx="1.40" fill="#000" fill-opacity="1.00" filter="url(#blur1)"/>
<rect x="56.00" y="285.05" width="10.00" height="1.70" rx="0.85" fill="#000" fill-opacity="0.80" filter="url(#blur1)" transform="rotate(-5 61.00 285.90)"/>
<rect x="65.20" y="284.35" width="10.00" height="1.70" rx="0.85" fill="#000" fill-opacity="0.80" filter="url(#blur1)" transform="rotate(-5 70.20 285.20)"/>
<rect x="74.30" y="283.45" width="10.00" height="1.70" rx="0.85" fill="#000" fill-opacity="0.75" filter="url(#blur1)" transform="rotate(-5 79.30 284.30)"/>
<rect x="84.00" y="282.35" width="10.00" height="1.70" rx="0.85" fill="#000" fill-opacity="0.65" filter="url(#blur1)" transform="rotate(-5 89.00 283.20)"/>
<rect x="93.50" y="281.25" width="8.50" height="1.70" rx="0.85" fill="#000" fill-opacity="0.55" filter="url(#blur1)" transform="rotate(-5 97.75 282.10)"/>
<rect x="47.00" y="306.80" width="8.60" height="2.00" rx="1.00" fill="#000" fill-opacity="0.07" filter="url(#blur1)"/>
<rect x="56.70" y="306.80" width="8.60" height="2.20" rx="1.10" fill="#000" fill-opacity="0.16" filter="url(#blur1)"/>
<rect x="65.90" y="307.30" width="8.60" height="2.60" rx="1.30" fill="#000" fill-opacity="0.55" filter="url(#blur1)"/>
<rect x="75.00" y="306.40" width="8.60" height="4.00" rx="2.00" fill="#000" fill-opacity="1.00" filter="url(#blur1)"/>
<rect x="84.70" y="305.90" width="8.60" height="3.40" rx="1.70" fill="#000" fill-opacity="0.95" filter="url(#blur1)"/>
<rect x="94.20" y="305.30" width="8.60" height="3.20" rx="1.60" fill="#000" fill-opacity="0.92" filter="url(#blur1)"/>
<rect x="75.00" y="313.90" width="8.60" height="2.20" rx="1.10" fill="#000" fill-opacity="0.72" filter="url(#blur1)" transform="rotate(-3 79.30 315.00)"/>
<rect x="84.70" y="313.30" width="8.60" height="2.20" rx="1.10" fill="#000" fill-opacity="0.80" filter="url(#blur1)" transform="rotate(-3 89.00 314.40)"/>
<rect x="94.20" y="312.40" width="8.60" height="2.20" rx="1.10" fill="#000" fill-opacity="0.75" filter="url(#blur1)" transform="rotate(-3 98.50 313.50)"/>
<rect x="46.70" y="334.20" width="9.20" height="4.80" rx="2.40" fill="#000" fill-opacity="1.00" filter="url(#blur1)"/>
<rect x="56.40" y="334.30" width="9.20" height="4.40" rx="2.20" fill="#000" fill-opacity="1.00" filter="url(#blur1)"/>
<rect x="65.60" y="334.40" width="9.20" height="4.00" rx="2.00" fill="#000" fill-opacity="1.00" filter="url(#blur1)"/>
<rect x="74.70" y="333.70" width="9.20" height="4.20" rx="2.10" fill="#000" fill-opacity="1.00" filter="url(#blur1)"/>
<rect x="84.40" y="333.40" width="9.20" height="3.80" rx="1.90" fill="#000" fill-opacity="1.00" filter="url(#blur1)"/>
<rect x="93.90" y="333.10" width="9.20" height="3.40" rx="1.70" fill="#000" fill-opacity="1.00" filter="url(#blur1)"/>
<text x="0" y="0" transform="translate(41.00 248.60) scale(1 1.15)" font-size="7.4" text-anchor="end" stroke="#1a1a1a" stroke-width="0.18">PRMT5</text>
<text x="0" y="0" transform="translate(40.60 281.20) scale(1 1.15)" font-size="7.4" text-anchor="end" stroke="#1a1a1a" stroke-width="0.18">SDMA</text>
<text x="0" y="0" transform="translate(40.80 313.40) scale(1 1.15)" font-size="7.4" text-anchor="end" stroke="#1a1a1a" stroke-width="0.18">Cleaved</text>
<text x="0" y="0" transform="translate(40.80 323.30) scale(1 1.15)" font-size="7.4" text-anchor="end" stroke="#1a1a1a" stroke-width="0.18">caspase-3</text>
<text x="0" y="0" transform="translate(40.80 339.50) scale(1 1.15)" font-size="7.4" text-anchor="end" stroke="#1a1a1a" stroke-width="0.18">Actin</text>
<text x="0" y="0" transform="translate(110.40 246.80) scale(1 1.14)" font-size="7.4" stroke="#1a1a1a" stroke-width="0.18">75 kDa</text>
<text x="0" y="0" transform="translate(110.40 269.50) scale(1 1.14)" font-size="7.4" stroke="#1a1a1a" stroke-width="0.18">25 kDa</text>
<text x="0" y="0" transform="translate(110.40 287.40) scale(1 1.14)" font-size="7.4" stroke="#1a1a1a" stroke-width="0.18">17 kDa</text>
<text x="0" y="0" transform="translate(110.40 310.80) scale(1 1.14)" font-size="7.4" stroke="#1a1a1a" stroke-width="0.18">20 kDa</text>
<text x="0" y="0" transform="translate(110.40 336.40) scale(1 1.14)" font-size="7.4" stroke="#1a1a1a" stroke-width="0.18">42 kDa</text>
<text x="142.00" y="203.80" font-size="11" fill="#000" stroke="#000" stroke-width="0.5" font-weight="bold">E</text>
<line x1="169.50" y1="234.20" x2="169.50" y2="321.30" stroke="#111" stroke-width="1.1"/>
<line x1="166.50" y1="320.80" x2="169.50" y2="320.80" stroke="#111" stroke-width="1"/>
<text x="0" y="0" transform="translate(163.60 323.50) scale(1 1.15)" font-size="7.4" text-anchor="end" stroke="#1a1a1a" stroke-width="0.18">0</text>
<line x1="166.50" y1="293.40" x2="169.50" y2="293.40" stroke="#111" stroke-width="1"/>
<text x="0" y="0" transform="translate(163.60 296.10) scale(1 1.15)" font-size="7.4" text-anchor="end" stroke="#1a1a1a" stroke-width="0.18">20</text>
<line x1="166.50" y1="266.00" x2="169.50" y2="266.00" stroke="#111" stroke-width="1"/>
<text x="0" y="0" transform="translate(163.60 268.70) scale(1 1.15)" font-size="7.4" text-anchor="end" stroke="#1a1a1a" stroke-width="0.18">40</text>
<line x1="166.50" y1="238.60" x2="169.50" y2="238.60" stroke="#111" stroke-width="1"/>
<text x="0" y="0" transform="translate(163.60 241.30) scale(1 1.15)" font-size="7.4" text-anchor="end" stroke="#1a1a1a" stroke-width="0.18">60</text>
<line x1="169.00" y1="320.80" x2="292.00" y2="320.80" stroke="#111" stroke-width="1.2"/>
<line x1="179.50" y1="320.80" x2="179.50" y2="323.40" stroke="#111" stroke-width="1"/>
<text x="0" y="0" transform="translate(182.30 329.80) rotate(-45) scale(1 1.12)" font-size="7.0" text-anchor="end" stroke="#1a1a1a" stroke-width="0.18">DMSO</text>
<line x1="194.22" y1="320.80" x2="194.22" y2="323.40" stroke="#111" stroke-width="1"/>
<text x="0" y="0" transform="translate(197.02 329.80) rotate(-45) scale(1 1.12)" font-size="7.0" text-anchor="end" stroke="#1a1a1a" stroke-width="0.18">0.001</text>
<line x1="208.94" y1="320.80" x2="208.94" y2="323.40" stroke="#111" stroke-width="1"/>
<text x="0" y="0" transform="translate(211.74 329.80) rotate(-45) scale(1 1.12)" font-size="7.0" text-anchor="end" stroke="#1a1a1a" stroke-width="0.18">0.005</text>
<line x1="223.66" y1="320.80" x2="223.66" y2="323.40" stroke="#111" stroke-width="1"/>
<text x="0" y="0" transform="translate(226.46 329.80) rotate(-45) scale(1 1.12)" font-size="7.0" text-anchor="end" stroke="#1a1a1a" stroke-width="0.18">0.02</text>
<line x1="238.38" y1="320.80" x2="238.38" y2="323.40" stroke="#111" stroke-width="1"/>
<text x="0" y="0" transform="translate(241.18 329.80) rotate(-45) scale(1 1.12)" font-size="7.0" text-anchor="end" stroke="#1a1a1a" stroke-width="0.18">0.08</text>
<line x1="253.10" y1="320.80" x2="253.10" y2="323.40" stroke="#111" stroke-width="1"/>
<text x="0" y="0" transform="translate(255.90 329.80) rotate(-45) scale(1 1.12)" font-size="7.0" text-anchor="end" stroke="#1a1a1a" stroke-width="0.18">0.31</text>
<line x1="267.82" y1="320.80" x2="267.82" y2="323.40" stroke="#111" stroke-width="1"/>
<text x="0" y="0" transform="translate(270.62 329.80) rotate(-45) scale(1 1.12)" font-size="7.0" text-anchor="end" stroke="#1a1a1a" stroke-width="0.18">1.25</text>
<line x1="282.54" y1="320.80" x2="282.54" y2="323.40" stroke="#111" stroke-width="1"/>
<text x="0" y="0" transform="translate(285.34 329.80) rotate(-45) scale(1 1.12)" font-size="7.0" text-anchor="end" stroke="#1a1a1a" stroke-width="0.18">5</text>
<polyline points="179.50,301.70 194.22,302.30 208.94,301.50 223.66,287.70 238.38,267.50 253.10,254.60 267.82,252.10 282.54,250.00" fill="none" stroke="#c8102e" stroke-width="1.5"/>
<line x1="179.50" y1="296.50" x2="179.50" y2="306.90" stroke="#333" stroke-width="0.9"/>
<line x1="177.80" y1="296.50" x2="181.20" y2="296.50" stroke="#222" stroke-width="0.9"/>
<line x1="177.80" y1="306.90" x2="181.20" y2="306.90" stroke="#222" stroke-width="0.9"/>
<circle cx="179.50" cy="301.70" r="1.85" fill="#c8102e"/>
<line x1="194.22" y1="297.20" x2="194.22" y2="308.30" stroke="#333" stroke-width="0.9"/>
<line x1="192.52" y1="297.20" x2="195.92" y2="297.20" stroke="#222" stroke-width="0.9"/>
<line x1="192.52" y1="308.30" x2="195.92" y2="308.30" stroke="#222" stroke-width="0.9"/>
<circle cx="194.22" cy="302.30" r="1.85" fill="#c8102e"/>
<line x1="208.94" y1="298.30" x2="208.94" y2="304.60" stroke="#333" stroke-width="0.9"/>
<line x1="207.24" y1="298.30" x2="210.64" y2="298.30" stroke="#222" stroke-width="0.9"/>
<line x1="207.24" y1="304.60" x2="210.64" y2="304.60" stroke="#222" stroke-width="0.9"/>
<circle cx="208.94" cy="301.50" r="1.85" fill="#c8102e"/>
<line x1="223.66" y1="281.90" x2="223.66" y2="294.40" stroke="#333" stroke-width="0.9"/>
<line x1="221.96" y1="281.90" x2="225.36" y2="281.90" stroke="#222" stroke-width="0.9"/>
<line x1="221.96" y1="294.40" x2="225.36" y2="294.40" stroke="#222" stroke-width="0.9"/>
<circle cx="223.66" cy="287.70" r="1.85" fill="#c8102e"/>
<line x1="238.38" y1="261.30" x2="238.38" y2="273.80" stroke="#333" stroke-width="0.9"/>
<line x1="236.68" y1="261.30" x2="240.08" y2="261.30" stroke="#222" stroke-width="0.9"/>
<line x1="236.68" y1="273.80" x2="240.08" y2="273.80" stroke="#222" stroke-width="0.9"/>
<circle cx="238.38" cy="267.50" r="1.85" fill="#c8102e"/>
<line x1="253.10" y1="248.70" x2="253.10" y2="260.40" stroke="#333" stroke-width="0.9"/>
<line x1="251.40" y1="248.70" x2="254.80" y2="248.70" stroke="#222" stroke-width="0.9"/>
<line x1="251.40" y1="260.40" x2="254.80" y2="260.40" stroke="#222" stroke-width="0.9"/>
<circle cx="253.10" cy="254.60" r="1.85" fill="#c8102e"/>
<line x1="267.82" y1="247.30" x2="267.82" y2="256.90" stroke="#333" stroke-width="0.9"/>
<line x1="266.12" y1="247.30" x2="269.52" y2="247.30" stroke="#222" stroke-width="0.9"/>
<line x1="266.12" y1="256.90" x2="269.52" y2="256.90" stroke="#222" stroke-width="0.9"/>
<circle cx="267.82" cy="252.10" r="1.85" fill="#c8102e"/>
<line x1="282.54" y1="245.00" x2="282.54" y2="255.00" stroke="#333" stroke-width="0.9"/>
<line x1="280.84" y1="245.00" x2="284.24" y2="245.00" stroke="#222" stroke-width="0.9"/>
<line x1="280.84" y1="255.00" x2="284.24" y2="255.00" stroke="#222" stroke-width="0.9"/>
<circle cx="282.54" cy="250.00" r="1.85" fill="#c8102e"/>
<text x="0" y="0" transform="translate(230.30 232.90) scale(1 1.1)" font-size="8.8" text-anchor="middle" stroke="#1a1a1a" stroke-width="0.18">CAL-1</text>
<text x="257.7" y="299.5" font-size="7.3">R<tspan font-size="5" dy="-2.6">2</tspan><tspan dy="2.6">=0.78</tspan></text>
<text x="0" y="0" transform="translate(257.70 308.00) scale(1 1.1)" font-size="7.3" stroke="#1a1a1a" stroke-width="0.18">P&lt;0.0001</text>
<text x="228.40" y="355.60" font-size="8.6" text-anchor="middle" stroke="#1a1a1a" stroke-width="0.18" textLength="54.5" lengthAdjust="spacingAndGlyphs">GSK3326595 (µM)</text>
<text x="0" y="0" font-size="8.2" text-anchor="middle" textLength="62.4" lengthAdjust="spacingAndGlyphs" stroke="#1a1a1a" stroke-width="0.18" transform="translate(148.31 279.00) rotate(-90)">Percent apoptotic (%)</text>
<text x="302.60" y="204.50" font-size="11" fill="#000" stroke="#000" stroke-width="0.5" font-weight="bold">F</text>
<line x1="330.50" y1="215.40" x2="330.50" y2="337.70" stroke="#111" stroke-width="1.1"/>
<line x1="327.50" y1="337.20" x2="330.50" y2="337.20" stroke="#111" stroke-width="1"/>
<text x="0" y="0" transform="translate(324.40 339.85) scale(1 1.15)" font-size="7.4" text-anchor="end" stroke="#1a1a1a" stroke-width="0.18">0</text>
<line x1="327.50" y1="317.76" x2="330.50" y2="317.76" stroke="#111" stroke-width="1"/>
<text x="0" y="0" transform="translate(324.40 320.41) scale(1 1.15)" font-size="7.4" text-anchor="end" stroke="#1a1a1a" stroke-width="0.18">0.2</text>
<line x1="327.50" y1="298.32" x2="330.50" y2="298.32" stroke="#111" stroke-width="1"/>
<text x="0" y="0" transform="translate(324.40 300.97) scale(1 1.15)" font-size="7.4" text-anchor="end" stroke="#1a1a1a" stroke-width="0.18">0.4</text>
<line x1="327.50" y1="278.88" x2="330.50" y2="278.88" stroke="#111" stroke-width="1"/>
<text x="0" y="0" transform="translate(324.40 281.53) scale(1 1.15)" font-size="7.4" text-anchor="end" stroke="#1a1a1a" stroke-width="0.18">0.6</text>
<line x1="327.50" y1="259.44" x2="330.50" y2="259.44" stroke="#111" stroke-width="1"/>
<text x="0" y="0" transform="translate(324.40 262.09) scale(1 1.15)" font-size="7.4" text-anchor="end" stroke="#1a1a1a" stroke-width="0.18">0.8</text>
<line x1="327.50" y1="240.00" x2="330.50" y2="240.00" stroke="#111" stroke-width="1"/>
<text x="0" y="0" transform="translate(324.40 242.65) scale(1 1.15)" font-size="7.4" text-anchor="end" stroke="#1a1a1a" stroke-width="0.18">1</text>
<line x1="327.50" y1="220.56" x2="330.50" y2="220.56" stroke="#111" stroke-width="1"/>
<text x="0" y="0" transform="translate(324.40 223.21) scale(1 1.15)" font-size="7.4" text-anchor="end" stroke="#1a1a1a" stroke-width="0.18">1.2</text>
<rect x="340.00" y="240.00" width="15.10" height="97.20" fill="#c8102e"/>
<rect x="355.10" y="297.40" width="13.70" height="39.80" fill="#0f4c88"/>
<rect x="368.80" y="306.20" width="14.70" height="31.00" fill="#3cb54a"/>
<rect x="383.50" y="316.30" width="14.70" height="20.90" fill="#5a2270"/>
<line x1="362.00" y1="297.40" x2="362.00" y2="293.50" stroke="#555" stroke-width="1"/>
<line x1="359.80" y1="293.50" x2="364.20" y2="293.50" stroke="#111" stroke-width="1.1"/>
<line x1="376.20" y1="306.20" x2="376.20" y2="304.60" stroke="#555" stroke-width="1"/>
<line x1="374.00" y1="304.60" x2="378.40" y2="304.60" stroke="#111" stroke-width="1.1"/>
<line x1="390.90" y1="316.30" x2="390.90" y2="313.50" stroke="#555" stroke-width="1"/>
<line x1="388.70" y1="313.50" x2="393.10" y2="313.50" stroke="#111" stroke-width="1.1"/>
<line x1="330.00" y1="337.20" x2="407.00" y2="337.20" stroke="#111" stroke-width="1.2"/>
<line x1="369.20" y1="337.20" x2="369.20" y2="339.40" stroke="#111" stroke-width="1"/>
<text x="0" y="0" transform="translate(369.20 350.50) scale(1 1.1)" font-size="8.7" text-anchor="middle" stroke="#1a1a1a" stroke-width="0.18">BCL-2</text>
<circle cx="362.00" cy="290.30" r="1.25" fill="#111"/>
<circle cx="374.35" cy="300.30" r="1.25" fill="#111"/>
<circle cx="378.05" cy="300.30" r="1.25" fill="#111"/>
<circle cx="390.90" cy="309.20" r="1.25" fill="#111"/>
<text x="0" y="0" font-size="7.6" text-anchor="middle" textLength="86.4" lengthAdjust="spacingAndGlyphs" stroke="#1a1a1a" stroke-width="0.22" transform="translate(307.11 275.40) rotate(-90)">mRNA expression (fold change)</text>
<rect x="365.80" y="216.10" width="6.80" height="6.80" fill="#c8102e"/>
<text x="0" y="0" transform="translate(375.60 222.20) scale(1 1.06)" font-size="7.5" stroke="#1a1a1a" stroke-width="0.18">DMSO</text>
<rect x="365.80" y="227.10" width="6.80" height="6.80" fill="#0f4c88"/>
<text x="0" y="0" transform="translate(375.60 233.20) scale(1 1.06)" font-size="7.5" stroke="#1a1a1a" stroke-width="0.18">0.31 µM</text>
<rect x="365.80" y="237.50" width="6.80" height="6.80" fill="#3cb54a"/>
<text x="0" y="0" transform="translate(375.60 243.60) scale(1 1.06)" font-size="7.5" stroke="#1a1a1a" stroke-width="0.18">1.25 µM</text>
<rect x="365.80" y="247.90" width="6.80" height="6.80" fill="#5a2270"/>
<text x="0" y="0" transform="translate(375.60 254.00) scale(1 1.06)" font-size="7.5" stroke="#1a1a1a" stroke-width="0.18">5 µM</text>
<line x1="435.50" y1="216.40" x2="435.50" y2="337.60" stroke="#111" stroke-width="1.1"/>
<line x1="432.50" y1="337.10" x2="435.50" y2="337.10" stroke="#111" stroke-width="1"/>
<text x="0" y="0" transform="translate(429.40 339.75) scale(1 1.15)" font-size="7.4" text-anchor="end" stroke="#1a1a1a" stroke-width="0.18">0</text>
<line x1="432.50" y1="313.82" x2="435.50" y2="313.82" stroke="#111" stroke-width="1"/>
<text x="0" y="0" transform="translate(429.40 316.47) scale(1 1.15)" font-size="7.4" text-anchor="end" stroke="#1a1a1a" stroke-width="0.18">2</text>
<line x1="432.50" y1="290.54" x2="435.50" y2="290.54" stroke="#111" stroke-width="1"/>
<text x="0" y="0" transform="translate(429.40 293.19) scale(1 1.15)" font-size="7.4" text-anchor="end" stroke="#1a1a1a" stroke-width="0.18">4</text>
<line x1="432.50" y1="267.26" x2="435.50" y2="267.26" stroke="#111" stroke-width="1"/>
<text x="0" y="0" transform="translate(429.40 269.91) scale(1 1.15)" font-size="7.4" text-anchor="end" stroke="#1a1a1a" stroke-width="0.18">6</text>
<line x1="432.50" y1="243.98" x2="435.50" y2="243.98" stroke="#111" stroke-width="1"/>
<text x="0" y="0" transform="translate(429.40 246.63) scale(1 1.15)" font-size="7.4" text-anchor="end" stroke="#1a1a1a" stroke-width="0.18">8</text>
<line x1="432.50" y1="220.70" x2="435.50" y2="220.70" stroke="#111" stroke-width="1"/>
<text x="0" y="0" transform="translate(429.40 223.35) scale(1 1.15)" font-size="7.4" text-anchor="end" stroke="#1a1a1a" stroke-width="0.18">10</text>
<rect x="446.60" y="325.50" width="15.20" height="11.60" fill="#c8102e"/>
<rect x="461.80" y="265.70" width="15.50" height="71.40" fill="#0f4c88"/>
<rect x="477.30" y="255.20" width="14.80" height="81.90" fill="#3cb54a"/>
<rect x="492.10" y="232.90" width="15.20" height="104.20" fill="#5a2270"/>
<line x1="499.70" y1="232.90" x2="499.70" y2="231.60" stroke="#555" stroke-width="1"/>
<line x1="497.50" y1="231.60" x2="501.90" y2="231.60" stroke="#111" stroke-width="1.1"/>
<line x1="435.00" y1="337.10" x2="513.00" y2="337.10" stroke="#111" stroke-width="1.2"/>
<line x1="477.30" y1="337.10" x2="477.30" y2="339.30" stroke="#111" stroke-width="1"/>
<text x="0" y="0" transform="translate(477.30 350.40) scale(1 1.1)" font-size="8.7" text-anchor="middle" stroke="#1a1a1a" stroke-width="0.18">PUMA</text>
<circle cx="469.50" cy="260.90" r="1.25" fill="#111"/>
<circle cx="484.70" cy="249.90" r="1.25" fill="#111"/>
<circle cx="499.70" cy="228.10" r="1.25" fill="#111"/>
<text x="0" y="0" font-size="7.6" text-anchor="middle" textLength="86.4" lengthAdjust="spacingAndGlyphs" stroke="#1a1a1a" stroke-width="0.22" transform="translate(418.81 275.40) rotate(-90)">mRNA expression (fold change)</text>
<rect x="442.20" y="215.80" width="6.60" height="6.60" fill="#c8102e"/>
<text x="0" y="0" transform="translate(451.70 221.80) scale(1 1.06)" font-size="7.5" stroke="#1a1a1a" stroke-width="0.18">DMSO</text>
<rect x="442.20" y="227.00" width="6.60" height="6.60" fill="#0f4c88"/>
<text x="0" y="0" transform="translate(451.70 233.00) scale(1 1.06)" font-size="7.5" stroke="#1a1a1a" stroke-width="0.18">0.31 µM</text>
<rect x="442.20" y="238.20" width="6.60" height="6.60" fill="#3cb54a"/>
<text x="0" y="0" transform="translate(451.70 244.20) scale(1 1.06)" font-size="7.5" stroke="#1a1a1a" stroke-width="0.18">1.25 µM</text>
<rect x="442.20" y="248.80" width="6.60" height="6.60" fill="#5a2270"/>
<text x="0" y="0" transform="translate(451.70 254.80) scale(1 1.06)" font-size="7.5" stroke="#1a1a1a" stroke-width="0.18">5 µM</text>
<text x="6.90" y="384.40" font-size="11" fill="#000" stroke="#000" stroke-width="0.5" font-weight="bold">G</text>
<text x="67.5" y="409.1" font-size="8.9" text-anchor="middle">10 × 10<tspan font-size="6.6" dy="-3.6">6</tspan></text>
<text x="0" y="0" transform="translate(67.00 421.00) scale(1 1.06)" font-size="8.9" text-anchor="middle" stroke="#1a1a1a" stroke-width="0.04">CAL-1 cells in</text>
<text x="0" y="0" transform="translate(67.00 432.00) scale(1 1.06)" font-size="8.9" text-anchor="middle" stroke="#1a1a1a" stroke-width="0.04">matrigel (1:1)</text>
<text x="0" y="0" transform="translate(196.30 420.20) scale(1 1.06)" font-size="8.9" text-anchor="middle" stroke="#1a1a1a" stroke-width="0.04">Tumours reach</text>
<text x="196.0" y="430.2" font-size="8.9" text-anchor="middle">100 mm<tspan font-size="6.2" dy="-3.4">3</tspan></text>
<text x="0" y="0" transform="translate(321.20 408.20) scale(1 1.06)" font-size="8.9" text-anchor="middle" stroke="#1a1a1a" stroke-width="0.04">Bi-daily oral</text>
<text x="0" y="0" transform="translate(320.20 420.30) scale(1 1.06)" font-size="8.9" text-anchor="middle" stroke="#1a1a1a" stroke-width="0.04">administration of</text>
<text x="0" y="0" transform="translate(320.20 431.10) scale(1 1.06)" font-size="8.9" text-anchor="middle" stroke="#1a1a1a" stroke-width="0.04">vehicle/GSK595</text>
<text x="0" y="0" transform="translate(391.00 447.80) scale(1 1.06)" font-size="8.9" stroke="#1a1a1a" stroke-width="0.04">Tumour</text>
<text x="0" y="0" transform="translate(391.00 458.80) scale(1 1.06)" font-size="8.9" stroke="#1a1a1a" stroke-width="0.04">harvest</text>
<g transform="translate(0 0)">
<path d="M109.8,464.4 C113.5,466.4 118,466.9 124,465.6 C130,464.2 136,462.9 141,464.3 C146,466.2 148.7,470.6 148.4,476.0" fill="none" stroke="#c27576" stroke-width="2.1" stroke-linecap="round"/>
<path d="M109.8,464.4 C113.5,466.4 118,466.9 124,465.6 C130,464.2 136,462.9 141,464.3 C146,466.2 148.7,470.6 148.4,476.0" fill="none" stroke="#dc9a9b" stroke-width="1.0" stroke-linecap="round"/>
<ellipse cx="69.9" cy="447.4" rx="2.3" ry="2.9" fill="#f2eeee" stroke="#a39d9d" stroke-width="0.55" transform="rotate(-20 69.9 447.4)"/>
<path d="M59.2,464.9 C60.2,461.5 62.6,458.2 65.2,455.2 C66.9,452.2 68.6,449.5 71.2,447.4 C74.4,444.8 78.5,443.3 84.5,442.4 C92.5,441.8 99.5,443.6 104.4,449.0 C108.3,453.2 110.8,458.4 111.0,464.0 C110.4,466.9 106.5,467.7 100.5,467.9 L86,467.4 C81.5,468.6 76,469.4 70.5,468.6 C66,467.9 61.5,467.2 59.2,464.9 Z" fill="#eeecec" stroke="#a39d9d" stroke-width="0.55"/>
<path d="M84,466.8 C90,463.5 98,462.5 104,460 C107,458.5 109.5,456 110.4,458.5 C110.9,461 110.8,463.5 110.4,465.6 C108,467.2 103,467.7 97,467.8 L86,467.4 Z" fill="#dbd7d7"/>
<path d="M61,465.3 C66,466.2 72,466.4 78,465.8 C79,467.2 77.5,468.6 72.5,468.8 C67,468.6 62.5,467.6 61,465.3 Z" fill="#dbd7d7"/>
<path d="M78,466 C79.5,462.5 81.5,460.8 84,459.8" fill="none" stroke="#a39d9d" stroke-width="0.5"/>
<ellipse cx="76.9" cy="451.0" rx="3.8" ry="5.1" fill="#f4f2f2" stroke="#a39d9d" stroke-width="0.55" transform="rotate(-10 76.9 451)"/>
<ellipse cx="77.3" cy="451.5" rx="2.8" ry="4.1" fill="#d6958f" transform="rotate(-10 77.3 451.5)"/>
<circle cx="66.6" cy="458.8" r="1.05" fill="#4a0d12"/>
<circle cx="59.6" cy="464.6" r="0.7" fill="#d6958f"/>
<path d="M60,463.6 L55.5,461.5 M60,464.2 L55,464.3" stroke="#cfcaca" stroke-width="0.35" fill="none"/>
<ellipse cx="73.6" cy="469.1" rx="2.6" ry="1.0" fill="#d6958f"/>
<ellipse cx="97.5" cy="468.3" rx="4.0" ry="1.1" fill="#d6958f"/>
</g>
<g transform="translate(107 -2.0)">
<path d="M109.8,464.4 C113.5,466.4 118,466.9 124,465.6 C130,464.2 136,462.9 141,464.3 C146,466.2 148.7,470.6 148.4,476.0" fill="none" stroke="#c27576" stroke-width="2.1" stroke-linecap="round"/>
<path d="M109.8,464.4 C113.5,466.4 118,466.9 124,465.6 C130,464.2 136,462.9 141,464.3 C146,466.2 148.7,470.6 148.4,476.0" fill="none" stroke="#dc9a9b" stroke-width="1.0" stroke-linecap="round"/>
<ellipse cx="69.9" cy="447.4" rx="2.3" ry="2.9" fill="#f2eeee" stroke="#a39d9d" stroke-width="0.55" transform="rotate(-20 69.9 447.4)"/>
<path d="M59.2,464.9 C60.2,461.5 62.6,458.2 65.2,455.2 C66.9,452.2 68.6,449.5 71.2,447.4 C74.4,444.8 78.5,443.3 84.5,442.4 C92.5,441.8 99.5,443.6 104.4,449.0 C108.3,453.2 110.8,458.4 111.0,464.0 C110.4,466.9 106.5,467.7 100.5,467.9 L86,467.4 C81.5,468.6 76,469.4 70.5,468.6 C66,467.9 61.5,467.2 59.2,464.9 Z" fill="#eeecec" stroke="#a39d9d" stroke-width="0.55"/>
<path d="M84,466.8 C90,463.5 98,462.5 104,460 C107,458.5 109.5,456 110.4,458.5 C110.9,461 110.8,463.5 110.4,465.6 C108,467.2 103,467.7 97,467.8 L86,467.4 Z" fill="#dbd7d7"/>
<path d="M61,465.3 C66,466.2 72,466.4 78,465.8 C79,467.2 77.5,468.6 72.5,468.8 C67,468.6 62.5,467.6 61,465.3 Z" fill="#dbd7d7"/>
<path d="M78,466 C79.5,462.5 81.5,460.8 84,459.8" fill="none" stroke="#a39d9d" stroke-width="0.5"/>
<ellipse cx="76.9" cy="451.0" rx="3.8" ry="5.1" fill="#f4f2f2" stroke="#a39d9d" stroke-width="0.55" transform="rotate(-10 76.9 451)"/>
<ellipse cx="77.3" cy="451.5" rx="2.8" ry="4.1" fill="#d6958f" transform="rotate(-10 77.3 451.5)"/>
<circle cx="66.6" cy="458.8" r="1.05" fill="#4a0d12"/>
<circle cx="59.6" cy="464.6" r="0.7" fill="#d6958f"/>
<path d="M60,463.6 L55.5,461.5 M60,464.2 L55,464.3" stroke="#cfcaca" stroke-width="0.35" fill="none"/>
<ellipse cx="73.6" cy="469.1" rx="2.6" ry="1.0" fill="#d6958f"/>
<ellipse cx="97.5" cy="468.3" rx="4.0" ry="1.1" fill="#d6958f"/>
<ellipse cx="90.2" cy="450.2" rx="5.2" ry="4.3" fill="#ea1822"/>
</g>
<g transform="translate(88.8 442.6) rotate(-45.5)">
<line x1="0" y1="0" x2="13.6" y2="0" stroke="#222" stroke-width="0.85"/>
<rect x="13.2" y="-1.5" width="4.6" height="3.0" fill="#fff" stroke="#111" stroke-width="0.85"/>
<rect x="17.8" y="-3.1" width="24.0" height="6.2" fill="#fff" stroke="#111" stroke-width="1.0"/>
<rect x="18.7" y="-2.2" width="11.0" height="4.4" fill="#c7841b"/>
<line x1="30.8" y1="0.4" x2="30.8" y2="3.0" stroke="#111" stroke-width="0.75"/>
<line x1="33.0" y1="0.4" x2="33.0" y2="3.0" stroke="#111" stroke-width="0.75"/>
<line x1="35.2" y1="0.4" x2="35.2" y2="3.0" stroke="#111" stroke-width="0.75"/>
<line x1="37.4" y1="0.4" x2="37.4" y2="3.0" stroke="#111" stroke-width="0.75"/>
<line x1="39.6" y1="0.4" x2="39.6" y2="3.0" stroke="#111" stroke-width="0.75"/>
<line x1="41.8" y1="-4.7" x2="41.8" y2="4.7" stroke="#111" stroke-width="1.4"/>
<line x1="41.8" y1="0" x2="47.6" y2="0" stroke="#111" stroke-width="1.4"/>
<line x1="47.6" y1="-3.8" x2="47.6" y2="3.8" stroke="#111" stroke-width="1.5"/>
</g>
<path d="M302,465.8 C310,466.3 318,466.2 324.6,466.2 C331,466.4 336.5,468.5 339.2,474.4" fill="none" stroke="#c98688" stroke-width="2.0" stroke-linecap="round"/>
<path d="M302,465.8 C310,466.3 318,466.2 324.6,466.2 C331,466.4 336.5,468.5 339.2,474.4" fill="none" stroke="#e2a7a8" stroke-width="1.1" stroke-linecap="round"/>
<ellipse cx="286.0" cy="433.9" rx="2.2" ry="1.8" fill="#eeecec" stroke="#a39d9d" stroke-width="0.5"/>
<path d="M269.8,431.9 C271.5,430.6 275,430.6 280.6,431.8 C285,432.6 288,435.5 291,438.4 C296,440 300,442.5 303,447.5 C305.8,452 306.2,457.5 304.6,461.5 C303.8,464 302.5,465.4 300.8,465.9 L279,465.9 C277.2,465 276.2,462 275.8,459.5 C274.8,455 274.3,451 273.8,446.5 C273.3,442.5 272.2,439.5 271.2,437 C270.3,435.3 269.6,433.5 269.8,431.9 Z" fill="#eeecec" stroke="#a39d9d" stroke-width="0.55"/>
<path d="M281,460 C286,458 292,459 297,463 C299,464.8 300.5,465.4 300.8,465.9 L281,465.9 Z" fill="#dbd7d7"/>
<path d="M300,449 C303,451 305,455 304.6,460.8 C303.6,464 302.6,465 301,465.6 C301.5,461 301.5,455 300,449 Z" fill="#dbd7d7"/>
<path d="M276,452 C278,451 280,452.5 281,454" fill="none" stroke="#a39d9d" stroke-width="0.5"/>
<ellipse cx="286.3" cy="439.3" rx="3.8" ry="3.3" fill="#f1efef" stroke="#a39d9d" stroke-width="0.5"/>
<ellipse cx="286.6" cy="439.5" rx="2.8" ry="2.3" fill="#d6958f"/>
<circle cx="277.8" cy="434.6" r="0.95" fill="#4a0d12"/>
<ellipse cx="272.6" cy="438.6" rx="0.9" ry="1.8" fill="#d88f8f"/>
<circle cx="272.4" cy="454.9" r="1.5" fill="#de9b93"/>
<ellipse cx="279.5" cy="466.1" rx="4.2" ry="1.0" fill="#d6958f"/>
<ellipse cx="289.5" cy="466.2" rx="3.5" ry="0.9" fill="#d6958f"/>
<path d="M283.6,401.5 C278,406 273.6,411.5 271.4,418.5 C270,423 269,428 268.6,432.8" fill="none" stroke="#555" stroke-width="0.7"/>
<g transform="translate(283.6 401.4) rotate(-46)">
<path d="M0,-0.8 L1.8,-2.0 L7.4,-2.0 L7.4,2.0 L1.8,2.0 L0,0.8 Z" fill="#a9d7ef" stroke="#6f8fa0" stroke-width="0.45"/>
<rect x="7.4" y="-2.1" width="1.7" height="4.2" fill="#111"/>
<rect x="9.1" y="-2.2" width="8.6" height="4.4" fill="#f6f6f6" stroke="#9a9a9a" stroke-width="0.45"/>
<line x1="10.8" y1="-2.1" x2="10.8" y2="-0.7" stroke="#bbb" stroke-width="0.4"/>
<line x1="12.4" y1="-2.1" x2="12.4" y2="-0.7" stroke="#bbb" stroke-width="0.4"/>
<line x1="14.0" y1="-2.1" x2="14.0" y2="-0.7" stroke="#bbb" stroke-width="0.4"/>
<line x1="15.6" y1="-2.1" x2="15.6" y2="-0.7" stroke="#bbb" stroke-width="0.4"/>
<rect x="17.3" y="-3.4" width="1.3" height="6.8" fill="#eee" stroke="#9a9a9a" stroke-width="0.45"/>
<rect x="18.6" y="-1.3" width="6.8" height="2.6" fill="#f3f3f3" stroke="#9a9a9a" stroke-width="0.45"/>
<rect x="25.3" y="-2.8" width="1.2" height="5.6" fill="#eee" stroke="#9a9a9a" stroke-width="0.45"/>
</g>
<path d="M123.50,447.85 L142.60,447.85 L142.60,442.20 L155.20,449.80 L142.60,457.40 L142.60,451.75 L123.50,451.75 Z" fill="#000"/>
<path d="M233.10,447.80 L252.40,447.80 L252.40,442.40 L264.80,449.80 L252.40,457.20 L252.40,451.80 L233.10,451.80 Z" fill="#000"/>
<path d="M311.80,448.10 L331.20,448.10 L331.20,442.50 L343.80,450.10 L331.20,457.70 L331.20,452.10 L311.80,452.10 Z" fill="#000"/>
<path d="M383.18,449.40 L383.30,449.97 L383.30,450.54 L383.19,451.10 L382.97,451.64 L382.69,452.16 L382.36,452.66 L382.02,453.13 L381.70,453.59 L381.41,454.05 L381.15,454.51 L380.91,454.98 L380.69,455.46 L380.47,455.93 L380.23,456.40 L379.96,456.86 L379.66,457.29 L379.34,457.71 L378.99,458.11 L378.64,458.49 L378.29,458.89 L377.95,459.30 L377.62,459.73 L377.30,460.19 L376.98,460.66 L376.64,461.14 L376.27,461.59 L375.86,462.00 L375.39,462.33 L374.87,462.56 L374.30,462.68 L373.71,462.70 L373.10,462.63 L372.49,462.49 L371.90,462.33 L371.34,462.19 L370.81,462.09 L370.30,462.07 L369.80,462.13 L369.31,462.28 L368.80,462.50 L368.28,462.75 L367.73,463.00 L367.17,463.21 L366.59,463.35 L366.02,463.39 L365.45,463.34 L364.91,463.19 L364.39,462.97 L363.90,462.68 L363.43,462.37 L362.98,462.03 L362.53,461.71 L362.09,461.39 L361.64,461.08 L361.21,460.76 L360.78,460.44 L360.37,460.09 L359.99,459.71 L359.64,459.31 L359.33,458.87 L359.04,458.42 L358.77,457.97 L358.49,457.52 L358.19,457.11 L357.85,456.71 L357.47,456.35 L357.03,455.99 L356.56,455.63 L356.09,455.26 L355.63,454.86 L355.23,454.41 L354.91,453.91 L354.71,453.37 L354.64,452.80 L354.69,452.21 L354.84,451.61 L355.06,451.03 L355.32,450.46 L355.57,449.92 L355.78,449.40 L355.92,448.89 L355.99,448.39 L355.98,447.88 L355.91,447.36 L355.81,446.82 L355.72,446.26 L355.65,445.69 L355.64,445.12 L355.70,444.57 L355.83,444.03 L356.03,443.51 L356.28,443.02 L356.56,442.55 L356.87,442.09 L357.18,441.64 L357.50,441.19 L357.82,440.74 L358.16,440.31 L358.52,439.90 L358.91,439.51 L359.35,439.18 L359.83,438.89 L360.34,438.67 L360.88,438.49 L361.42,438.36 L361.96,438.23 L362.47,438.09 L362.95,437.91 L363.40,437.68 L363.82,437.37 L364.22,436.99 L364.63,436.57 L365.05,436.12 L365.51,435.69 L366.00,435.31 L366.52,435.03 L367.08,434.86 L367.65,434.82 L368.23,434.91 L368.80,435.10 L369.35,435.37 L369.88,435.68 L370.39,436.00 L370.88,436.28 L371.36,436.52 L371.85,436.70 L372.35,436.82 L372.86,436.91 L373.38,436.98 L373.92,437.05 L374.45,437.15 L374.97,437.29 L375.47,437.48 L375.96,437.71 L376.43,437.98 L376.88,438.27 L377.33,438.57 L377.79,438.88 L378.24,439.18 L378.71,439.49 L379.16,439.82 L379.61,440.17 L380.01,440.56 L380.36,441.00 L380.64,441.49 L380.83,442.03 L380.94,442.60 L380.98,443.20 L380.97,443.79 L380.94,444.37 L380.93,444.92 L380.97,445.45 L381.08,445.94 L381.28,446.40 L381.56,446.86 L381.90,447.33 L382.27,447.81 L382.63,448.31 L382.95,448.84 L383.18,449.40Z" fill="#a51d2a" stroke="#1c0305" stroke-width="1.1"/>
<path d="M380.78,449.80 L380.85,450.26 L380.84,450.72 L380.73,451.16 L380.53,451.59 L380.25,452.00 L379.90,452.37 L379.51,452.71 L379.08,453.01 L378.65,453.28 L378.22,453.54 L377.83,453.78 L377.48,454.02 L377.18,454.27 L376.94,454.54 L376.75,454.85 L376.61,455.19 L376.52,455.57 L376.44,455.98 L376.37,456.43 L376.30,456.90 L376.20,457.37 L376.07,457.84 L375.89,458.28 L375.66,458.69 L375.37,459.04 L375.04,459.33 L374.66,459.55 L374.25,459.71 L373.81,459.80 L373.36,459.84 L372.90,459.84 L372.45,459.81 L372.01,459.77 L371.59,459.74 L371.17,459.72 L370.77,459.73 L370.38,459.78 L369.99,459.87 L369.60,459.99 L369.20,460.14 L368.79,460.30 L368.36,460.46 L367.92,460.60 L367.47,460.70 L367.02,460.75 L366.57,460.74 L366.14,460.65 L365.73,460.49 L365.35,460.25 L365.00,459.93 L364.70,459.56 L364.44,459.15 L364.21,458.71 L364.01,458.26 L363.84,457.83 L363.67,457.41 L363.49,457.04 L363.30,456.71 L363.07,456.44 L362.79,456.21 L362.47,456.02 L362.10,455.86 L361.69,455.72 L361.23,455.59 L360.75,455.44 L360.27,455.28 L359.79,455.07 L359.34,454.83 L358.93,454.53 L358.59,454.19 L358.33,453.81 L358.15,453.39 L358.06,452.94 L358.05,452.48 L358.11,452.01 L358.24,451.54 L358.41,451.08 L358.61,450.63 L358.81,450.21 L359.01,449.80 L359.18,449.41 L359.31,449.02 L359.41,448.64 L359.46,448.26 L359.47,447.86 L359.46,447.46 L359.42,447.04 L359.39,446.61 L359.37,446.17 L359.38,445.73 L359.44,445.30 L359.55,444.88 L359.72,444.49 L359.95,444.13 L360.25,443.82 L360.59,443.55 L360.98,443.32 L361.39,443.13 L361.82,442.98 L362.24,442.84 L362.65,442.72 L363.04,442.59 L363.40,442.44 L363.72,442.25 L364.01,442.03 L364.27,441.75 L364.51,441.42 L364.74,441.05 L364.98,440.64 L365.23,440.20 L365.50,439.76 L365.80,439.34 L366.14,438.94 L366.51,438.60 L366.92,438.34 L367.36,438.16 L367.81,438.07 L368.28,438.08 L368.74,438.18 L369.20,438.36 L369.64,438.62 L370.06,438.93 L370.45,439.27 L370.81,439.63 L371.15,439.97 L371.48,440.29 L371.80,440.57 L372.13,440.80 L372.46,440.97 L372.81,441.10 L373.18,441.18 L373.57,441.22 L373.99,441.25 L374.42,441.28 L374.86,441.32 L375.31,441.39 L375.74,441.50 L376.15,441.67 L376.52,441.88 L376.85,442.15 L377.13,442.47 L377.36,442.83 L377.53,443.23 L377.67,443.65 L377.77,444.08 L377.85,444.50 L377.92,444.92 L378.00,445.32 L378.10,445.70 L378.23,446.06 L378.41,446.40 L378.63,446.74 L378.89,447.07 L379.18,447.40 L379.49,447.75 L379.81,448.12 L380.12,448.51 L380.40,448.92 L380.62,449.35 L380.78,449.80Z" fill="none" stroke="#6e0b14" stroke-width="2.2"/>
<path d="M380.78,449.80 L380.85,450.26 L380.84,450.72 L380.73,451.16 L380.53,451.59 L380.25,452.00 L379.90,452.37 L379.51,452.71 L379.08,453.01 L378.65,453.28 L378.22,453.54 L377.83,453.78 L377.48,454.02 L377.18,454.27 L376.94,454.54 L376.75,454.85 L376.61,455.19 L376.52,455.57 L376.44,455.98 L376.37,456.43 L376.30,456.90 L376.20,457.37 L376.07,457.84 L375.89,458.28 L375.66,458.69 L375.37,459.04 L375.04,459.33 L374.66,459.55 L374.25,459.71 L373.81,459.80 L373.36,459.84 L372.90,459.84 L372.45,459.81 L372.01,459.77 L371.59,459.74 L371.17,459.72 L370.77,459.73 L370.38,459.78 L369.99,459.87 L369.60,459.99 L369.20,460.14 L368.79,460.30 L368.36,460.46 L367.92,460.60 L367.47,460.70 L367.02,460.75 L366.57,460.74 L366.14,460.65 L365.73,460.49 L365.35,460.25 L365.00,459.93 L364.70,459.56 L364.44,459.15 L364.21,458.71 L364.01,458.26 L363.84,457.83 L363.67,457.41 L363.49,457.04 L363.30,456.71 L363.07,456.44 L362.79,456.21 L362.47,456.02 L362.10,455.86 L361.69,455.72 L361.23,455.59 L360.75,455.44 L360.27,455.28 L359.79,455.07 L359.34,454.83 L358.93,454.53 L358.59,454.19 L358.33,453.81 L358.15,453.39 L358.06,452.94 L358.05,452.48 L358.11,452.01 L358.24,451.54 L358.41,451.08 L358.61,450.63 L358.81,450.21 L359.01,449.80 L359.18,449.41 L359.31,449.02 L359.41,448.64 L359.46,448.26 L359.47,447.86 L359.46,447.46 L359.42,447.04 L359.39,446.61 L359.37,446.17 L359.38,445.73 L359.44,445.30 L359.55,444.88 L359.72,444.49 L359.95,444.13 L360.25,443.82 L360.59,443.55 L360.98,443.32 L361.39,443.13 L361.82,442.98 L362.24,442.84 L362.65,442.72 L363.04,442.59 L363.40,442.44 L363.72,442.25 L364.01,442.03 L364.27,441.75 L364.51,441.42 L364.74,441.05 L364.98,440.64 L365.23,440.20 L365.50,439.76 L365.80,439.34 L366.14,438.94 L366.51,438.60 L366.92,438.34 L367.36,438.16 L367.81,438.07 L368.28,438.08 L368.74,438.18 L369.20,438.36 L369.64,438.62 L370.06,438.93 L370.45,439.27 L370.81,439.63 L371.15,439.97 L371.48,440.29 L371.80,440.57 L372.13,440.80 L372.46,440.97 L372.81,441.10 L373.18,441.18 L373.57,441.22 L373.99,441.25 L374.42,441.28 L374.86,441.32 L375.31,441.39 L375.74,441.50 L376.15,441.67 L376.52,441.88 L376.85,442.15 L377.13,442.47 L377.36,442.83 L377.53,443.23 L377.67,443.65 L377.77,444.08 L377.85,444.50 L377.92,444.92 L378.00,445.32 L378.10,445.70 L378.23,446.06 L378.41,446.40 L378.63,446.74 L378.89,447.07 L379.18,447.40 L379.49,447.75 L379.81,448.12 L380.12,448.51 L380.40,448.92 L380.62,449.35 L380.78,449.80Z" fill="#050101"/>
<text x="6.90" y="512.00" font-size="11" fill="#000" stroke="#000" stroke-width="0.5" font-weight="bold">H</text>
<line x1="48.50" y1="526.20" x2="48.50" y2="622.40" stroke="#111" stroke-width="1.1"/>
<line x1="45.50" y1="621.90" x2="48.50" y2="621.90" stroke="#111" stroke-width="1"/>
<text x="0" y="0" transform="translate(41.60 624.60) scale(1 1.15)" font-size="7.4" text-anchor="end" stroke="#1a1a1a" stroke-width="0.18">0</text>
<line x1="45.50" y1="591.40" x2="48.50" y2="591.40" stroke="#111" stroke-width="1"/>
<text x="0" y="0" transform="translate(41.60 594.10) scale(1 1.15)" font-size="7.4" text-anchor="end" stroke="#1a1a1a" stroke-width="0.18">500</text>
<line x1="45.50" y1="560.90" x2="48.50" y2="560.90" stroke="#111" stroke-width="1"/>
<text x="0" y="0" transform="translate(41.60 563.60) scale(1 1.15)" font-size="7.4" text-anchor="end" stroke="#1a1a1a" stroke-width="0.18">1000</text>
<line x1="45.50" y1="530.40" x2="48.50" y2="530.40" stroke="#111" stroke-width="1"/>
<text x="0" y="0" transform="translate(41.60 533.10) scale(1 1.15)" font-size="7.4" text-anchor="end" stroke="#1a1a1a" stroke-width="0.18">1500</text>
<line x1="48.00" y1="621.90" x2="148.50" y2="621.90" stroke="#111" stroke-width="1.2"/>
<line x1="76.50" y1="621.90" x2="76.50" y2="624.30" stroke="#111" stroke-width="1"/>
<line x1="119.60" y1="621.90" x2="119.60" y2="624.30" stroke="#111" stroke-width="1"/>
<text x="0" y="0" transform="translate(98.60 518.10) scale(1 1.1)" font-size="8.6" text-anchor="middle" stroke="#1a1a1a" stroke-width="0.18">Tumor volume-6d</text>
<path d="M76.5,534.4 L76.5,531.2 L119.6,531.2 L119.6,534.4" fill="none" stroke="#111" stroke-width="0.9"/>
<circle cx="93.10" cy="526.30" r="1.25" fill="#111"/>
<circle cx="96.70" cy="526.30" r="1.25" fill="#111"/>
<circle cx="100.30" cy="526.30" r="1.25" fill="#111"/>
<circle cx="103.90" cy="526.30" r="1.25" fill="#111"/>
<circle cx="76.50" cy="539.50" r="1.85" fill="#0f4d8c"/>
<circle cx="76.50" cy="549.20" r="1.85" fill="#0f4d8c"/>
<circle cx="79.90" cy="554.50" r="1.85" fill="#0f4d8c"/>
<circle cx="70.70" cy="558.90" r="1.85" fill="#0f4d8c"/>
<circle cx="74.20" cy="561.50" r="1.85" fill="#0f4d8c"/>
<circle cx="79.90" cy="566.50" r="1.85" fill="#0f4d8c"/>
<circle cx="79.90" cy="573.00" r="1.85" fill="#0f4d8c"/>
<circle cx="74.20" cy="576.20" r="1.85" fill="#0f4d8c"/>
<circle cx="76.50" cy="582.20" r="1.85" fill="#0f4d8c"/>
<circle cx="76.50" cy="594.20" r="1.85" fill="#0f4d8c"/>
<line x1="66.10" y1="565.40" x2="93.80" y2="565.40" stroke="#333" stroke-width="1.1"/>
<rect x="118.00" y="575.60" width="3.2" height="3.2" fill="#cc1236"/>
<rect x="118.00" y="590.30" width="3.2" height="3.2" fill="#cc1236"/>
<rect x="111.80" y="595.40" width="3.2" height="3.2" fill="#cc1236"/>
<rect x="123.80" y="594.00" width="3.2" height="3.2" fill="#cc1236"/>
<rect x="118.00" y="596.60" width="3.2" height="3.2" fill="#cc1236"/>
<rect x="108.80" y="604.60" width="3.2" height="3.2" fill="#cc1236"/>
<rect x="120.80" y="605.60" width="3.2" height="3.2" fill="#cc1236"/>
<rect x="126.80" y="603.50" width="3.2" height="3.2" fill="#cc1236"/>
<rect x="115.00" y="609.30" width="3.2" height="3.2" fill="#cc1236"/>
<line x1="105.80" y1="598.90" x2="133.50" y2="598.90" stroke="#333" stroke-width="1.1"/>
<text x="0" y="0" transform="translate(72.90 633.60) scale(1 1.1)" font-size="7.8" text-anchor="middle" fill="#2f6aa6" stroke="#2f6aa6" stroke-width="0.18">Vehicle</text>
<text x="0" y="0" transform="translate(73.10 643.60) scale(1 1.1)" font-size="7.8" text-anchor="middle" fill="#2f6aa6" stroke="#2f6aa6" stroke-width="0.18" font-style="italic" textLength="53.8" lengthAdjust="spacingAndGlyphs">(methylcellulose)</text>
<text x="0" y="0" transform="translate(124.20 633.60) scale(1 1.1)" font-size="7.8" text-anchor="middle" fill="#cc2a47" stroke="#cc2a47" stroke-width="0.18" textLength="48.3" lengthAdjust="spacingAndGlyphs">GSK3326595</text>
<text x="0" y="0" transform="translate(124.60 643.60) scale(1 1.1)" font-size="7.8" text-anchor="middle" fill="#cc2a47" stroke="#cc2a47" stroke-width="0.18" font-style="italic" textLength="40.0" lengthAdjust="spacingAndGlyphs">(150 mg/kg)</text>
<text x="0" y="0" font-size="8.0" text-anchor="middle" textLength="61.7" lengthAdjust="spacingAndGlyphs" stroke="#1a1a1a" stroke-width="0.18" transform="translate(18.04 575.30) rotate(-90)">Tumor volume (mm<tspan font-size="5.4" dy="-2.7">3</tspan><tspan dy="2.7">)</tspan></text>
<text x="180.00" y="512.20" font-size="11" fill="#000" stroke="#000" stroke-width="0.5" font-weight="bold">I</text>
<text x="0" y="0" transform="translate(241.50 518.00) scale(1 1.1)" font-size="8.4" text-anchor="middle" fill="#2f6aa6" stroke="#2f6aa6" stroke-width="0.18">Vehicle</text>
<text x="0" y="0" transform="translate(241.90 527.60) scale(1 1.1)" font-size="8.4" text-anchor="middle" fill="#2f6aa6" stroke="#2f6aa6" stroke-width="0.18" font-style="italic" textLength="59.5" lengthAdjust="spacingAndGlyphs">(methylcellulose)</text>
<text x="0" y="0" transform="translate(307.60 517.60) scale(1 1.1)" font-size="8.4" text-anchor="middle" fill="#cc2a47" stroke="#cc2a47" stroke-width="0.18" textLength="51.0" lengthAdjust="spacingAndGlyphs">GSK3326595</text>
<text x="0" y="0" transform="translate(307.60 527.60) scale(1 1.1)" font-size="8.4" text-anchor="middle" fill="#cc2a47" stroke="#cc2a47" stroke-width="0.18" font-style="italic" textLength="45.2" lengthAdjust="spacingAndGlyphs">(150 mg/kg)</text>
<line x1="211.30" y1="532.50" x2="271.90" y2="532.50" stroke="#111" stroke-width="1.1"/>
<line x1="276.90" y1="532.50" x2="337.90" y2="532.50" stroke="#111" stroke-width="1.1"/>
<text x="0" y="0" transform="translate(216.40 547.60) rotate(-40) scale(1 1.1)" font-size="7.6" fill="#2f6aa6" stroke="#2f6aa6" stroke-width="0.18" font-style="italic">902</text>
<text x="0" y="0" transform="translate(234.20 547.60) rotate(-40) scale(1 1.1)" font-size="7.6" fill="#2f6aa6" stroke="#2f6aa6" stroke-width="0.18" font-style="italic">905</text>
<text x="0" y="0" transform="translate(248.20 547.60) rotate(-40) scale(1 1.1)" font-size="7.6" fill="#2f6aa6" stroke="#2f6aa6" stroke-width="0.18" font-style="italic">912</text>
<text x="0" y="0" transform="translate(261.60 547.60) rotate(-40) scale(1 1.1)" font-size="7.6" fill="#2f6aa6" stroke="#2f6aa6" stroke-width="0.18" font-style="italic">913</text>
<text x="0" y="0" transform="translate(278.50 547.60) rotate(-40) scale(1 1.1)" font-size="7.6" fill="#cc2a47" stroke="#cc2a47" stroke-width="0.18" font-style="italic">904</text>
<text x="0" y="0" transform="translate(293.90 547.60) rotate(-40) scale(1 1.1)" font-size="7.6" fill="#cc2a47" stroke="#cc2a47" stroke-width="0.18" font-style="italic">911</text>
<text x="0" y="0" transform="translate(309.20 547.60) rotate(-40) scale(1 1.1)" font-size="7.6" fill="#cc2a47" stroke="#cc2a47" stroke-width="0.18" font-style="italic">910</text>
<text x="0" y="0" transform="translate(324.70 547.60) rotate(-40) scale(1 1.1)" font-size="7.6" fill="#cc2a47" stroke="#cc2a47" stroke-width="0.18" font-style="italic">916</text>
<rect x="209.60" y="551.80" width="119.20" height="26.40" fill="#ebebeb" stroke="#262626" stroke-width="1.2"/>
<rect x="209.60" y="582.60" width="119.20" height="26.60" fill="#e9e9e9" stroke="#262626" stroke-width="1.2"/>
<rect x="209.60" y="613.00" width="120.00" height="24.00" fill="#eaeaea" stroke="#262626" stroke-width="1.2"/>
<rect x="213.70" y="561.00" width="10.80" height="3.00" rx="1.50" fill="#000" fill-opacity="1.00" filter="url(#blur1)"/>
<rect x="227.70" y="561.50" width="10.20" height="2.40" rx="1.20" fill="#000" fill-opacity="0.85" filter="url(#blur1)"/>
<rect x="242.50" y="561.00" width="9.60" height="3.00" rx="1.50" fill="#000" fill-opacity="1.00" filter="url(#blur1)"/>
<rect x="256.70" y="560.80" width="10.20" height="3.00" rx="1.50" fill="#000" fill-opacity="1.00" filter="url(#blur1)"/>
<rect x="272.70" y="561.30" width="8.20" height="2.20" rx="1.10" fill="#000" fill-opacity="0.70" filter="url(#blur1)"/>
<rect x="285.70" y="562.90" width="12.00" height="3.40" rx="1.70" fill="#000" fill-opacity="1.00" filter="url(#blur1)"/>
<rect x="301.60" y="563.60" width="9.20" height="2.60" rx="1.30" fill="#000" fill-opacity="1.00" filter="url(#blur1)"/>
<rect x="314.70" y="564.00" width="10.80" height="2.60" rx="1.30" fill="#000" fill-opacity="1.00" filter="url(#blur1)"/>
<rect x="216.30" y="594.40" width="13.60" height="2.40" rx="1.20" fill="#000" fill-opacity="1.00" filter="url(#blur1)" transform="rotate(1.8 223.10 595.60)"/>
<rect x="231.40" y="594.60" width="13.60" height="2.40" rx="1.20" fill="#000" fill-opacity="1.00" filter="url(#blur1)" transform="rotate(1.8 238.20 595.80)"/>
<rect x="245.00" y="595.50" width="13.60" height="2.40" rx="1.20" fill="#000" fill-opacity="1.00" filter="url(#blur1)" transform="rotate(1.8 251.80 596.70)"/>
<rect x="258.70" y="596.50" width="13.60" height="2.40" rx="1.20" fill="#000" fill-opacity="1.00" filter="url(#blur1)" transform="rotate(1.8 265.50 597.70)"/>
<rect x="274.50" y="596.80" width="10.00" height="2.00" rx="1.00" fill="#000" fill-opacity="0.07" filter="url(#blur1)"/>
<rect x="289.00" y="596.80" width="10.00" height="2.00" rx="1.00" fill="#000" fill-opacity="0.04" filter="url(#blur1)"/>
<rect x="303.30" y="596.80" width="10.00" height="2.00" rx="1.00" fill="#000" fill-opacity="0.06" filter="url(#blur1)"/>
<rect x="317.00" y="596.80" width="10.00" height="2.00" rx="1.00" fill="#000" fill-opacity="0.04" filter="url(#blur1)"/>
<rect x="217.20" y="620.35" width="11.60" height="2.90" rx="1.45" fill="#000" fill-opacity="1.00" filter="url(#blur1)"/>
<rect x="231.20" y="620.35" width="11.60" height="2.90" rx="1.45" fill="#000" fill-opacity="1.00" filter="url(#blur1)"/>
<rect x="245.35" y="620.45" width="11.30" height="2.90" rx="1.45" fill="#000" fill-opacity="1.00" filter="url(#blur1)"/>
<rect x="259.00" y="620.25" width="11.40" height="2.90" rx="1.45" fill="#000" fill-opacity="1.00" filter="url(#blur1)"/>
<rect x="273.55" y="620.75" width="10.90" height="2.90" rx="1.45" fill="#000" fill-opacity="1.00" filter="url(#blur1)"/>
<rect x="288.05" y="622.75" width="11.70" height="2.90" rx="1.45" fill="#000" fill-opacity="1.00" filter="url(#blur1)"/>
<rect x="303.40" y="622.85" width="9.60" height="2.90" rx="1.45" fill="#000" fill-opacity="1.00" filter="url(#blur1)"/>
<rect x="316.05" y="622.95" width="10.90" height="2.90" rx="1.45" fill="#000" fill-opacity="1.00" filter="url(#blur1)"/>
<text x="0" y="0" transform="translate(206.50 563.10) scale(1 1.12)" font-size="7.4" text-anchor="end" stroke="#1a1a1a" stroke-width="0.18">PRMT5</text>
<text x="0" y="0" transform="translate(206.50 597.20) scale(1 1.12)" font-size="7.4" text-anchor="end" stroke="#1a1a1a" stroke-width="0.18">SDMA</text>
<text x="0" y="0" transform="translate(206.50 625.40) scale(1 1.12)" font-size="7.4" text-anchor="end" stroke="#1a1a1a" stroke-width="0.18">Actin</text>
<text x="0" y="0" transform="translate(332.00 567.00) scale(1 1.08)" font-size="6.95" stroke="#1a1a1a" stroke-width="0.1">75 kDa</text>
<text x="0" y="0" transform="translate(332.00 598.30) scale(1 1.08)" font-size="6.95" stroke="#1a1a1a" stroke-width="0.1">17 kDa</text>
<text x="0" y="0" transform="translate(332.00 625.40) scale(1 1.08)" font-size="6.95" stroke="#1a1a1a" stroke-width="0.1">42 kDa</text>
<text x="383.60" y="512.60" font-size="11" fill="#000" stroke="#000" stroke-width="0.5" font-weight="bold">J</text>
<line x1="415.50" y1="530.80" x2="415.50" y2="617.80" stroke="#111" stroke-width="1.1"/>
<line x1="412.50" y1="617.30" x2="415.50" y2="617.30" stroke="#111" stroke-width="1"/>
<text x="0" y="0" transform="translate(410.20 620.00) scale(1 1.15)" font-size="7.4" text-anchor="end" stroke="#1a1a1a" stroke-width="0.18">80</text>
<line x1="412.50" y1="596.75" x2="415.50" y2="596.75" stroke="#111" stroke-width="1"/>
<text x="0" y="0" transform="translate(410.20 599.45) scale(1 1.15)" font-size="7.4" text-anchor="end" stroke="#1a1a1a" stroke-width="0.18">90</text>
<line x1="412.50" y1="576.20" x2="415.50" y2="576.20" stroke="#111" stroke-width="1"/>
<text x="0" y="0" transform="translate(410.20 578.90) scale(1 1.15)" font-size="7.4" text-anchor="end" stroke="#1a1a1a" stroke-width="0.18">100</text>
<line x1="412.50" y1="555.65" x2="415.50" y2="555.65" stroke="#111" stroke-width="1"/>
<text x="0" y="0" transform="translate(410.20 558.35) scale(1 1.15)" font-size="7.4" text-anchor="end" stroke="#1a1a1a" stroke-width="0.18">110</text>
<line x1="412.50" y1="535.10" x2="415.50" y2="535.10" stroke="#111" stroke-width="1"/>
<text x="0" y="0" transform="translate(410.20 537.80) scale(1 1.15)" font-size="7.4" text-anchor="end" stroke="#1a1a1a" stroke-width="0.18">120</text>
<line x1="415.00" y1="617.30" x2="512.60" y2="617.30" stroke="#111" stroke-width="1.2"/>
<line x1="415.30" y1="617.30" x2="415.30" y2="619.70" stroke="#111" stroke-width="1"/>
<text x="0" y="0" transform="translate(415.30 628.30) scale(1 1.15)" font-size="7.4" text-anchor="middle" stroke="#1a1a1a" stroke-width="0.18">0</text>
<line x1="438.58" y1="617.30" x2="438.58" y2="619.70" stroke="#111" stroke-width="1"/>
<text x="0" y="0" transform="translate(438.58 628.30) scale(1 1.15)" font-size="7.4" text-anchor="middle" stroke="#1a1a1a" stroke-width="0.18">2</text>
<line x1="461.86" y1="617.30" x2="461.86" y2="619.70" stroke="#111" stroke-width="1"/>
<text x="0" y="0" transform="translate(461.86 628.30) scale(1 1.15)" font-size="7.4" text-anchor="middle" stroke="#1a1a1a" stroke-width="0.18">4</text>
<line x1="485.14" y1="617.30" x2="485.14" y2="619.70" stroke="#111" stroke-width="1"/>
<text x="0" y="0" transform="translate(485.14 628.30) scale(1 1.15)" font-size="7.4" text-anchor="middle" stroke="#1a1a1a" stroke-width="0.18">6</text>
<line x1="508.42" y1="617.30" x2="508.42" y2="619.70" stroke="#111" stroke-width="1"/>
<text x="0" y="0" transform="translate(508.42 628.30) scale(1 1.15)" font-size="7.4" text-anchor="middle" stroke="#1a1a1a" stroke-width="0.18">8</text>
<text x="461.60" y="640.70" font-size="8.7" text-anchor="middle" stroke="#1a1a1a" stroke-width="0.18" textLength="57.9" lengthAdjust="spacingAndGlyphs">Treatment period (d)</text>
<text x="0" y="0" transform="translate(461.20 534.00) scale(1 1.1)" font-size="9.0" text-anchor="middle" stroke="#1a1a1a" stroke-width="0.18" textLength="49.9" lengthAdjust="spacingAndGlyphs">Body weight</text>
<text x="0" y="0" font-size="8.0" text-anchor="middle" textLength="57.6" lengthAdjust="spacingAndGlyphs" stroke="#1a1a1a" stroke-width="0.18" transform="translate(389.64 574.70) rotate(-90)">Weight (% of day 0)</text>
<line x1="426.94" y1="568.00" x2="426.94" y2="579.20" stroke="#222" stroke-width="0.9"/>
<line x1="425.34" y1="568.00" x2="428.54" y2="568.00" stroke="#222" stroke-width="0.9"/>
<line x1="425.34" y1="579.20" x2="428.54" y2="579.20" stroke="#222" stroke-width="0.9"/>
<line x1="438.58" y1="564.80" x2="438.58" y2="584.30" stroke="#222" stroke-width="0.9"/>
<line x1="436.98" y1="564.80" x2="440.18" y2="564.80" stroke="#222" stroke-width="0.9"/>
<line x1="436.98" y1="584.30" x2="440.18" y2="584.30" stroke="#222" stroke-width="0.9"/>
<line x1="450.22" y1="572.60" x2="450.22" y2="584.90" stroke="#222" stroke-width="0.9"/>
<line x1="448.62" y1="572.60" x2="451.82" y2="572.60" stroke="#222" stroke-width="0.9"/>
<line x1="448.62" y1="584.90" x2="451.82" y2="584.90" stroke="#222" stroke-width="0.9"/>
<line x1="461.86" y1="569.00" x2="461.86" y2="588.50" stroke="#222" stroke-width="0.9"/>
<line x1="460.26" y1="569.00" x2="463.46" y2="569.00" stroke="#222" stroke-width="0.9"/>
<line x1="460.26" y1="588.50" x2="463.46" y2="588.50" stroke="#222" stroke-width="0.9"/>
<line x1="473.50" y1="557.40" x2="473.50" y2="584.30" stroke="#222" stroke-width="0.9"/>
<line x1="471.90" y1="557.40" x2="475.10" y2="557.40" stroke="#222" stroke-width="0.9"/>
<line x1="471.90" y1="584.30" x2="475.10" y2="584.30" stroke="#222" stroke-width="0.9"/>
<line x1="485.14" y1="563.10" x2="485.14" y2="584.30" stroke="#222" stroke-width="0.9"/>
<line x1="483.54" y1="563.10" x2="486.74" y2="563.10" stroke="#222" stroke-width="0.9"/>
<line x1="483.54" y1="584.30" x2="486.74" y2="584.30" stroke="#222" stroke-width="0.9"/>
<line x1="496.78" y1="565.20" x2="496.78" y2="585.10" stroke="#222" stroke-width="0.9"/>
<line x1="495.18" y1="565.20" x2="498.38" y2="565.20" stroke="#222" stroke-width="0.9"/>
<line x1="495.18" y1="585.10" x2="498.38" y2="585.10" stroke="#222" stroke-width="0.9"/>
<line x1="508.42" y1="563.80" x2="508.42" y2="582.80" stroke="#222" stroke-width="0.9"/>
<line x1="506.82" y1="563.80" x2="510.02" y2="563.80" stroke="#222" stroke-width="0.9"/>
<line x1="506.82" y1="582.80" x2="510.02" y2="582.80" stroke="#222" stroke-width="0.9"/>
<line x1="437.08" y1="568.00" x2="440.08" y2="568.00" stroke="#222" stroke-width="0.9"/>
<line x1="437.08" y1="578.00" x2="440.08" y2="578.00" stroke="#222" stroke-width="0.9"/>
<line x1="460.36" y1="575.20" x2="463.36" y2="575.20" stroke="#222" stroke-width="0.9"/>
<line x1="460.36" y1="582.90" x2="463.36" y2="582.90" stroke="#222" stroke-width="0.9"/>
<line x1="472.00" y1="572.00" x2="475.00" y2="572.00" stroke="#222" stroke-width="0.9"/>
<line x1="472.00" y1="582.00" x2="475.00" y2="582.00" stroke="#222" stroke-width="0.9"/>
<line x1="483.64" y1="567.50" x2="486.64" y2="567.50" stroke="#222" stroke-width="0.9"/>
<line x1="483.64" y1="581.50" x2="486.64" y2="581.50" stroke="#222" stroke-width="0.9"/>
<line x1="495.28" y1="568.50" x2="498.28" y2="568.50" stroke="#222" stroke-width="0.9"/>
<line x1="495.28" y1="582.50" x2="498.28" y2="582.50" stroke="#222" stroke-width="0.9"/>
<line x1="506.92" y1="566.50" x2="509.92" y2="566.50" stroke="#222" stroke-width="0.9"/>
<line x1="506.92" y1="579.50" x2="509.92" y2="579.50" stroke="#222" stroke-width="0.9"/>
<polyline points="415.30,576.00 426.94,573.30 438.58,572.20 450.22,576.90 461.86,578.60 473.50,578.60 485.14,577.90 496.78,580.30 508.42,577.10" fill="none" stroke="#c8102e" stroke-width="1.6"/>
<polyline points="415.30,576.00 426.94,575.00 438.58,574.30 450.22,579.60 461.86,578.60 473.50,570.10 485.14,571.60 496.78,571.20 508.42,570.10" fill="none" stroke="#0e4f8e" stroke-width="1.6"/>
<circle cx="415.30" cy="576.00" r="1.7" fill="#c8102e"/>
<circle cx="426.94" cy="573.30" r="1.7" fill="#c8102e"/>
<circle cx="438.58" cy="572.20" r="1.7" fill="#c8102e"/>
<circle cx="450.22" cy="576.90" r="1.7" fill="#c8102e"/>
<circle cx="461.86" cy="578.60" r="1.7" fill="#c8102e"/>
<circle cx="473.50" cy="578.60" r="1.7" fill="#c8102e"/>
<circle cx="485.14" cy="577.90" r="1.7" fill="#c8102e"/>
<circle cx="496.78" cy="580.30" r="1.7" fill="#c8102e"/>
<circle cx="508.42" cy="577.10" r="1.7" fill="#c8102e"/>
<circle cx="415.30" cy="576.00" r="1.7" fill="#0e4f8e"/>
<circle cx="426.94" cy="575.00" r="1.7" fill="#0e4f8e"/>
<circle cx="438.58" cy="574.30" r="1.7" fill="#0e4f8e"/>
<circle cx="450.22" cy="579.60" r="1.7" fill="#0e4f8e"/>
<circle cx="461.86" cy="578.60" r="1.7" fill="#0e4f8e"/>
<circle cx="473.50" cy="570.10" r="1.7" fill="#0e4f8e"/>
<circle cx="485.14" cy="571.60" r="1.7" fill="#0e4f8e"/>
<circle cx="496.78" cy="571.20" r="1.7" fill="#0e4f8e"/>
<circle cx="508.42" cy="570.10" r="1.7" fill="#0e4f8e"/>
</g>
<rect x="0.55" y="0.55" width="518.9" height="648.9" fill="none" stroke="#000" stroke-width="1.1"/>
</svg>
</body></html>
